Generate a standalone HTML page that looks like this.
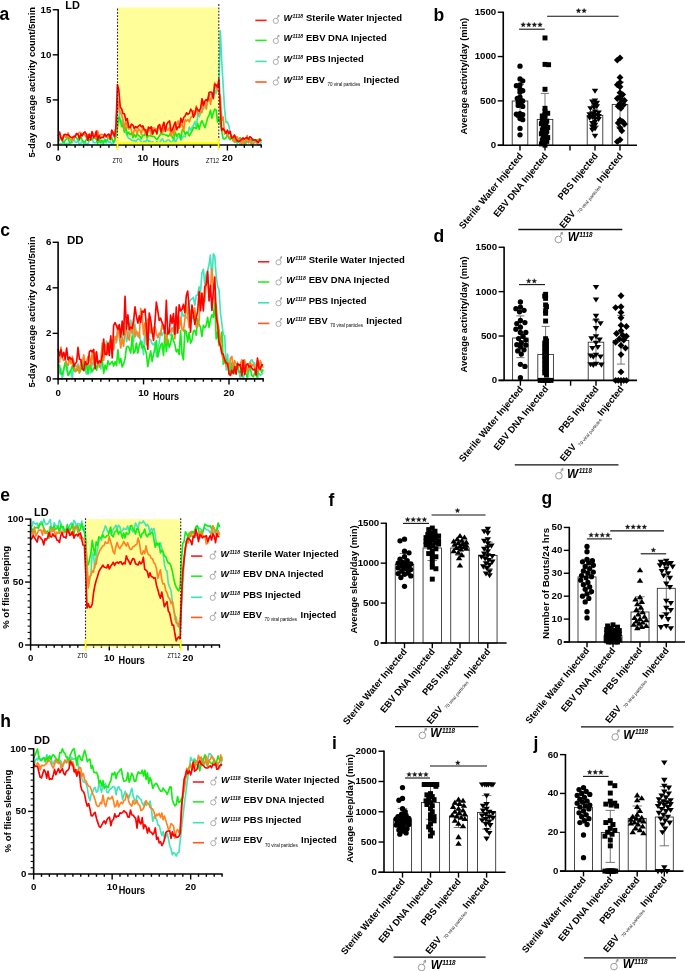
<!DOCTYPE html><html><head><meta charset="utf-8"><style>html,body{margin:0;padding:0;background:#fff;}svg{display:block;font-family:"Liberation Sans",sans-serif;will-change:transform;}</style></head><body><svg width="685" height="971" viewBox="0 0 685 971"><rect x="0" y="0" width="685" height="971" fill="#fff"/>
<rect x="117.50" y="7.40" width="101.10" height="137.60" fill="#fffe99" stroke="none" stroke-width="1"/>
<polyline points="58.20,144.47 59.61,143.55 61.02,143.79 62.43,143.26 63.84,141.35 65.25,145.00 66.66,143.23 68.07,143.48 69.48,144.19 70.89,142.76 72.30,142.52 73.71,138.45 75.12,141.92 76.53,142.47 77.94,140.83 79.35,144.36 80.76,143.51 82.17,141.34 83.58,143.28 84.99,144.16 86.40,143.38 87.81,144.82 89.22,140.11 90.63,139.85 92.04,138.07 93.45,142.74 94.86,142.60 96.27,142.52 97.68,141.11 99.09,142.08 100.50,140.58 101.91,142.65 103.32,144.76 104.73,138.97 106.14,142.95 107.55,139.75 108.96,142.60 110.37,141.65 111.78,145.00 113.19,143.77 114.60,141.10 116.01,133.15 117.42,99.01 118.83,108.36 120.24,122.20 121.65,120.37 123.06,126.95 124.47,132.12 125.88,132.33 127.29,135.96 128.70,138.49 130.11,138.73 131.52,140.17 132.93,140.59 134.34,140.28 135.75,141.82 137.16,139.56 138.57,138.80 139.98,139.89 141.39,142.51 142.80,143.09 144.21,141.10 145.62,142.26 147.03,139.19 148.44,141.42 149.85,140.96 151.26,142.96 152.67,141.52 154.08,143.98 155.49,144.73 156.90,141.46 158.31,144.03 159.72,143.03 161.13,140.15 162.54,138.79 163.95,141.75 165.36,142.68 166.77,140.36 168.18,139.99 169.59,140.45 171.00,142.89 172.41,141.82 173.82,138.29 175.23,142.44 176.64,139.60 178.05,136.68 179.46,136.73 180.87,140.17 182.28,137.75 183.69,135.96 185.10,136.76 186.51,131.92 187.92,132.96 189.33,127.02 190.74,130.45 192.15,127.27 193.56,125.35 194.97,121.35 196.38,127.31 197.79,114.32 199.20,116.69 200.61,113.37 202.02,106.81 203.43,109.20 204.84,105.29 206.25,104.12 207.66,98.79 209.07,97.10 210.48,92.75 211.89,95.73 213.30,97.90 214.71,89.63 216.12,93.60 217.53,86.13 218.94,85.23 220.35,30.49 221.76,62.05 223.17,85.49 224.58,108.92 225.99,122.63 227.40,121.97 228.81,125.49 230.22,134.38 231.63,136.94 233.04,138.93 234.45,141.48 235.86,140.30 237.27,143.44 238.68,139.70 240.09,145.00 241.50,145.00 242.91,140.11 244.32,142.51 245.73,145.00 247.14,137.68 248.55,140.62 249.96,141.37 251.37,145.00 252.78,140.43 254.19,142.23 255.60,142.60 257.01,143.06 258.42,145.00 259.83,144.62 261.24,141.68" fill="none" stroke="#44e4b8" stroke-width="1.65" stroke-linejoin="round"/>
<polyline points="58.20,142.67 59.61,139.22 61.02,137.87 62.43,141.11 63.84,142.86 65.25,140.13 66.66,138.94 68.07,137.59 69.48,142.58 70.89,142.74 72.30,138.40 73.71,138.89 75.12,136.59 76.53,137.77 77.94,140.11 79.35,140.47 80.76,135.09 82.17,140.48 83.58,141.55 84.99,142.31 86.40,139.61 87.81,139.49 89.22,140.55 90.63,139.92 92.04,139.18 93.45,138.25 94.86,137.36 96.27,139.28 97.68,143.64 99.09,138.19 100.50,142.81 101.91,140.07 103.32,142.91 104.73,139.67 106.14,141.37 107.55,139.18 108.96,134.82 110.37,139.74 111.78,137.77 113.19,142.52 114.60,140.23 116.01,135.95 117.42,127.58 118.83,117.05 120.24,119.84 121.65,126.70 123.06,124.59 124.47,131.79 125.88,127.16 127.29,134.51 128.70,132.04 130.11,134.62 131.52,132.93 132.93,137.65 134.34,134.44 135.75,137.19 137.16,133.79 138.57,135.35 139.98,136.54 141.39,138.80 142.80,135.00 144.21,135.74 145.62,132.86 147.03,137.81 148.44,135.53 149.85,135.64 151.26,136.19 152.67,136.37 154.08,136.44 155.49,138.35 156.90,139.37 158.31,137.86 159.72,135.44 161.13,133.18 162.54,134.49 163.95,134.30 165.36,134.98 166.77,135.17 168.18,136.44 169.59,134.99 171.00,132.54 172.41,137.69 173.82,138.59 175.23,132.08 176.64,136.29 178.05,134.10 179.46,133.94 180.87,138.65 182.28,129.72 183.69,130.39 185.10,134.17 186.51,132.26 187.92,133.54 189.33,135.90 190.74,133.19 192.15,130.82 193.56,127.65 194.97,127.78 196.38,128.69 197.79,123.71 199.20,129.25 200.61,123.25 202.02,120.74 203.43,123.93 204.84,127.64 206.25,123.28 207.66,117.87 209.07,115.39 210.48,110.19 211.89,118.22 213.30,113.04 214.71,109.13 216.12,110.01 217.53,122.03 218.94,118.06 220.35,124.04 221.76,131.51 223.17,138.72 224.58,138.96 225.99,137.98 227.40,134.02 228.81,138.13 230.22,139.75 231.63,137.22 233.04,140.66 234.45,136.58 235.86,141.93 237.27,141.49 238.68,138.98 240.09,137.50 241.50,139.12 242.91,139.86 244.32,144.32 245.73,141.99 247.14,141.78 248.55,141.61 249.96,139.26 251.37,141.20 252.78,138.84 254.19,140.32 255.60,141.19 257.01,140.24 258.42,139.59 259.83,138.69 261.24,141.50" fill="none" stroke="#11ee11" stroke-width="1.65" stroke-linejoin="round"/>
<polyline points="58.20,140.82 59.61,136.74 61.02,137.94 62.43,138.40 63.84,134.86 65.25,137.01 66.66,137.80 68.07,132.72 69.48,138.27 70.89,140.12 72.30,140.36 73.71,138.26 75.12,135.33 76.53,134.82 77.94,134.08 79.35,132.29 80.76,132.57 82.17,135.13 83.58,133.39 84.99,135.01 86.40,137.98 87.81,134.49 89.22,136.34 90.63,136.97 92.04,131.43 93.45,134.45 94.86,137.56 96.27,136.50 97.68,130.93 99.09,136.86 100.50,134.35 101.91,134.61 103.32,134.84 104.73,134.61 106.14,137.29 107.55,137.21 108.96,136.41 110.37,136.88 111.78,133.88 113.19,131.96 114.60,138.14 116.01,128.18 117.42,99.92 118.83,108.20 120.24,111.91 121.65,114.78 123.06,120.03 124.47,129.37 125.88,120.46 127.29,126.91 128.70,129.09 130.11,126.05 131.52,131.01 132.93,134.48 134.34,129.90 135.75,130.07 137.16,133.63 138.57,128.77 139.98,130.08 141.39,134.42 142.80,126.01 144.21,130.27 145.62,134.32 147.03,129.66 148.44,130.57 149.85,128.07 151.26,134.80 152.67,127.79 154.08,128.04 155.49,128.72 156.90,128.93 158.31,126.82 159.72,128.53 161.13,130.23 162.54,133.02 163.95,127.26 165.36,127.60 166.77,129.58 168.18,129.97 169.59,127.76 171.00,136.10 172.41,127.94 173.82,135.23 175.23,127.16 176.64,124.09 178.05,120.91 179.46,127.90 180.87,124.52 182.28,124.90 183.69,130.87 185.10,119.72 186.51,121.03 187.92,119.50 189.33,121.90 190.74,117.57 192.15,116.24 193.56,110.90 194.97,113.68 196.38,105.83 197.79,114.60 199.20,113.18 200.61,111.29 202.02,112.46 203.43,101.20 204.84,102.82 206.25,109.02 207.66,101.32 209.07,94.91 210.48,104.34 211.89,95.53 213.30,95.42 214.71,82.68 216.12,87.85 217.53,89.09 218.94,92.55 220.35,97.53 221.76,120.50 223.17,117.07 224.58,134.09 225.99,132.43 227.40,134.34 228.81,137.32 230.22,137.07 231.63,135.71 233.04,139.80 234.45,142.34 235.86,137.00 237.27,136.76 238.68,141.49 240.09,139.35 241.50,144.85 242.91,137.81 244.32,142.97 245.73,141.31 247.14,135.55 248.55,142.89 249.96,140.15 251.37,142.52 252.78,144.21 254.19,142.77 255.60,139.71 257.01,143.11 258.42,141.60 259.83,138.82 261.24,140.73" fill="none" stroke="#ff8420" stroke-width="1.65" stroke-linejoin="round"/>
<polyline points="58.20,136.20 59.61,132.15 61.02,137.96 62.43,140.48 63.84,135.26 65.25,134.30 66.66,134.90 68.07,134.54 69.48,136.12 70.89,137.31 72.30,137.70 73.71,136.33 75.12,136.73 76.53,133.40 77.94,134.17 79.35,138.93 80.76,133.96 82.17,135.80 83.58,132.89 84.99,131.91 86.40,134.31 87.81,140.24 89.22,134.06 90.63,139.68 92.04,131.72 93.45,137.39 94.86,136.19 96.27,131.07 97.68,140.20 99.09,135.63 100.50,138.44 101.91,137.03 103.32,137.74 104.73,133.97 106.14,136.48 107.55,134.82 108.96,134.07 110.37,139.25 111.78,130.03 113.19,133.54 114.60,136.61 116.01,125.49 117.42,84.59 118.83,90.06 120.24,106.99 121.65,108.98 123.06,113.77 124.47,113.79 125.88,120.28 127.29,118.73 128.70,127.05 130.11,127.53 131.52,124.14 132.93,125.07 134.34,128.57 135.75,126.57 137.16,127.78 138.57,126.06 139.98,124.85 141.39,126.82 142.80,125.90 144.21,129.63 145.62,130.13 147.03,135.41 148.44,127.16 149.85,128.32 151.26,126.78 152.67,134.17 154.08,129.91 155.49,130.13 156.90,133.97 158.31,125.63 159.72,124.66 161.13,132.13 162.54,126.58 163.95,122.36 165.36,131.31 166.77,124.17 168.18,122.04 169.59,120.91 171.00,130.95 172.41,129.78 173.82,125.48 175.23,122.04 176.64,129.77 178.05,126.95 179.46,127.00 180.87,118.20 182.28,122.74 183.69,117.51 185.10,115.98 186.51,112.82 187.92,114.31 189.33,113.35 190.74,109.20 192.15,111.18 193.56,117.31 194.97,113.87 196.38,107.56 197.79,109.95 199.20,111.29 200.61,108.01 202.02,98.76 203.43,105.48 204.84,101.35 206.25,99.56 207.66,100.87 209.07,92.48 210.48,92.06 211.89,92.24 213.30,98.54 214.71,84.39 216.12,84.88 217.53,87.14 218.94,79.18 220.35,112.31 221.76,130.49 223.17,128.46 224.58,130.73 225.99,133.49 227.40,130.12 228.81,133.56 230.22,131.49 231.63,138.19 233.04,137.38 234.45,134.87 235.86,138.60 237.27,141.00 238.68,141.39 240.09,140.74 241.50,139.62 242.91,137.92 244.32,139.16 245.73,137.82 247.14,137.66 248.55,139.30 249.96,136.71 251.37,137.97 252.78,140.05 254.19,140.03 255.60,139.73 257.01,141.35 258.42,142.71 259.83,139.68 261.24,140.93" fill="none" stroke="#ff0000" stroke-width="1.65" stroke-linejoin="round"/>
<line x1="117.50" y1="8.60" x2="117.50" y2="145.00" stroke="#2a2a2a" stroke-width="1.1" stroke-dasharray="1.8,1.5"/>
<line x1="218.80" y1="4.10" x2="218.80" y2="145.00" stroke="#2a2a2a" stroke-width="1.1" stroke-dasharray="1.8,1.5"/>
<line x1="58.20" y1="9.15" x2="58.20" y2="145.60" stroke="#000" stroke-width="1.6" />
<line x1="52.70" y1="9.75" x2="58.20" y2="9.75" stroke="#000" stroke-width="1.4" />
<text x="51.30" y="12.66" font-size="9.7" font-weight="bold" text-anchor="end">15</text>
<line x1="52.70" y1="54.83" x2="58.20" y2="54.83" stroke="#000" stroke-width="1.4" />
<text x="51.30" y="57.74" font-size="9.7" font-weight="bold" text-anchor="end">10</text>
<line x1="52.70" y1="99.92" x2="58.20" y2="99.92" stroke="#000" stroke-width="1.4" />
<text x="51.30" y="102.83" font-size="9.7" font-weight="bold" text-anchor="end">5</text>
<line x1="52.70" y1="145.00" x2="58.20" y2="145.00" stroke="#000" stroke-width="1.4" />
<text x="51.30" y="147.91" font-size="9.7" font-weight="bold" text-anchor="end">0</text>
<line x1="57.60" y1="145.00" x2="261.84" y2="145.00" stroke="#000" stroke-width="1.6" />
<line x1="58.20" y1="145.00" x2="58.20" y2="150.50" stroke="#000" stroke-width="1.4" />
<line x1="66.66" y1="145.00" x2="66.66" y2="147.80" stroke="#000" stroke-width="1.4" />
<line x1="75.12" y1="145.00" x2="75.12" y2="147.80" stroke="#000" stroke-width="1.4" />
<line x1="83.58" y1="145.00" x2="83.58" y2="147.80" stroke="#000" stroke-width="1.4" />
<line x1="92.04" y1="145.00" x2="92.04" y2="147.80" stroke="#000" stroke-width="1.4" />
<line x1="100.50" y1="145.00" x2="100.50" y2="147.80" stroke="#000" stroke-width="1.4" />
<line x1="108.96" y1="145.00" x2="108.96" y2="147.80" stroke="#000" stroke-width="1.4" />
<line x1="117.42" y1="145.00" x2="117.42" y2="147.80" stroke="#000" stroke-width="1.4" />
<line x1="125.88" y1="145.00" x2="125.88" y2="147.80" stroke="#000" stroke-width="1.4" />
<line x1="134.34" y1="145.00" x2="134.34" y2="147.80" stroke="#000" stroke-width="1.4" />
<line x1="142.80" y1="145.00" x2="142.80" y2="150.50" stroke="#000" stroke-width="1.4" />
<line x1="151.26" y1="145.00" x2="151.26" y2="147.80" stroke="#000" stroke-width="1.4" />
<line x1="159.72" y1="145.00" x2="159.72" y2="147.80" stroke="#000" stroke-width="1.4" />
<line x1="168.18" y1="145.00" x2="168.18" y2="147.80" stroke="#000" stroke-width="1.4" />
<line x1="176.64" y1="145.00" x2="176.64" y2="147.80" stroke="#000" stroke-width="1.4" />
<line x1="185.10" y1="145.00" x2="185.10" y2="147.80" stroke="#000" stroke-width="1.4" />
<line x1="193.56" y1="145.00" x2="193.56" y2="147.80" stroke="#000" stroke-width="1.4" />
<line x1="202.02" y1="145.00" x2="202.02" y2="147.80" stroke="#000" stroke-width="1.4" />
<line x1="210.48" y1="145.00" x2="210.48" y2="147.80" stroke="#000" stroke-width="1.4" />
<line x1="218.94" y1="145.00" x2="218.94" y2="147.80" stroke="#000" stroke-width="1.4" />
<line x1="227.40" y1="145.00" x2="227.40" y2="150.50" stroke="#000" stroke-width="1.4" />
<line x1="235.86" y1="145.00" x2="235.86" y2="147.80" stroke="#000" stroke-width="1.4" />
<line x1="244.32" y1="145.00" x2="244.32" y2="147.80" stroke="#000" stroke-width="1.4" />
<line x1="252.78" y1="145.00" x2="252.78" y2="147.80" stroke="#000" stroke-width="1.4" />
<line x1="261.24" y1="145.00" x2="261.24" y2="147.80" stroke="#000" stroke-width="1.4" />
<line x1="117.50" y1="143.30" x2="218.60" y2="143.30" stroke="#ffff00" stroke-width="1.9" />
<line x1="117.50" y1="138.00" x2="117.50" y2="150.00" stroke="#ffff00" stroke-width="1.7" />
<line x1="218.60" y1="138.00" x2="218.60" y2="150.00" stroke="#ffff00" stroke-width="1.7" />
<text x="58.20" y="161.30" font-size="9.7" font-weight="bold" text-anchor="middle">0</text>
<text x="142.80" y="161.30" font-size="9.7" font-weight="bold" text-anchor="middle">10</text>
<text x="227.40" y="161.30" font-size="9.7" font-weight="bold" text-anchor="middle">20</text>
<text x="117.50" y="162.50" font-size="7.4" font-weight="normal" text-anchor="middle" textLength="10.00" lengthAdjust="spacingAndGlyphs">ZT0</text>
<text x="212.50" y="162.50" font-size="7.4" font-weight="normal" text-anchor="middle" textLength="13.00" lengthAdjust="spacingAndGlyphs">ZT12</text>
<text x="152.60" y="166.40" font-size="10.0" font-weight="bold" textLength="26.50" lengthAdjust="spacingAndGlyphs">Hours</text>
<text x="35.20" y="82.20" font-size="9.4" font-weight="bold" text-anchor="middle" textLength="150.50" lengthAdjust="spacingAndGlyphs" transform="rotate(-90 35.20 82.20)">5-day average activity count/5min</text>
<text x="65.30" y="8.80" font-size="11.0" font-weight="bold" textLength="14.60" lengthAdjust="spacingAndGlyphs">LD</text>
<text x="-0.60" y="20.30" font-size="17.5" font-weight="bold">a</text>
<line x1="255.30" y1="20.40" x2="266.60" y2="20.40" stroke="#ff1a1a" stroke-width="1.6" />
<circle cx="275.80" cy="20.90" r="2.6" fill="none" stroke="#8a8a8a" stroke-width="0.7"/>
<line x1="277.02" y1="18.60" x2="278.85" y2="15.16" stroke="#8a8a8a" stroke-width="0.7"/>
<line x1="278.85" y1="15.16" x2="277.20" y2="16.19" stroke="#8a8a8a" stroke-width="0.7"/>
<line x1="278.85" y1="15.16" x2="278.92" y2="17.11" stroke="#8a8a8a" stroke-width="0.7"/>
<text x="283.60" y="21.10" font-size="9.6" font-weight="bold" font-style="italic" textLength="8.60" lengthAdjust="spacingAndGlyphs">W</text>
<text x="292.50" y="18.22" font-size="5.6" font-weight="bold" font-style="italic" textLength="10.60" lengthAdjust="spacingAndGlyphs">1118</text>
<text x="306.00" y="21.10" font-size="9.5" font-weight="bold" textLength="96.00" lengthAdjust="spacingAndGlyphs">Sterile Water Injected</text>
<line x1="255.30" y1="40.40" x2="266.60" y2="40.40" stroke="#22ee22" stroke-width="1.6" />
<circle cx="275.80" cy="40.90" r="2.6" fill="none" stroke="#8a8a8a" stroke-width="0.7"/>
<line x1="277.02" y1="38.60" x2="278.85" y2="35.16" stroke="#8a8a8a" stroke-width="0.7"/>
<line x1="278.85" y1="35.16" x2="277.20" y2="36.19" stroke="#8a8a8a" stroke-width="0.7"/>
<line x1="278.85" y1="35.16" x2="278.92" y2="37.11" stroke="#8a8a8a" stroke-width="0.7"/>
<text x="283.60" y="41.10" font-size="9.6" font-weight="bold" font-style="italic" textLength="8.60" lengthAdjust="spacingAndGlyphs">W</text>
<text x="292.50" y="38.22" font-size="5.6" font-weight="bold" font-style="italic" textLength="10.60" lengthAdjust="spacingAndGlyphs">1118</text>
<text x="306.00" y="41.10" font-size="9.5" font-weight="bold" textLength="80.74" lengthAdjust="spacingAndGlyphs">EBV DNA Injected</text>
<line x1="255.30" y1="61.40" x2="266.60" y2="61.40" stroke="#3ee3b4" stroke-width="1.6" />
<circle cx="275.80" cy="61.90" r="2.6" fill="none" stroke="#8a8a8a" stroke-width="0.7"/>
<line x1="277.02" y1="59.60" x2="278.85" y2="56.16" stroke="#8a8a8a" stroke-width="0.7"/>
<line x1="278.85" y1="56.16" x2="277.20" y2="57.19" stroke="#8a8a8a" stroke-width="0.7"/>
<line x1="278.85" y1="56.16" x2="278.92" y2="58.11" stroke="#8a8a8a" stroke-width="0.7"/>
<text x="283.60" y="62.10" font-size="9.6" font-weight="bold" font-style="italic" textLength="8.60" lengthAdjust="spacingAndGlyphs">W</text>
<text x="292.50" y="59.22" font-size="5.6" font-weight="bold" font-style="italic" textLength="10.60" lengthAdjust="spacingAndGlyphs">1118</text>
<text x="306.00" y="62.10" font-size="9.5" font-weight="bold" textLength="57.90" lengthAdjust="spacingAndGlyphs">PBS Injected</text>
<line x1="255.30" y1="82.00" x2="266.60" y2="82.00" stroke="#ff5a1e" stroke-width="1.6" />
<circle cx="275.80" cy="82.50" r="2.6" fill="none" stroke="#8a8a8a" stroke-width="0.7"/>
<line x1="277.02" y1="80.20" x2="278.85" y2="76.76" stroke="#8a8a8a" stroke-width="0.7"/>
<line x1="278.85" y1="76.76" x2="277.20" y2="77.79" stroke="#8a8a8a" stroke-width="0.7"/>
<line x1="278.85" y1="76.76" x2="278.92" y2="78.71" stroke="#8a8a8a" stroke-width="0.7"/>
<text x="283.60" y="82.70" font-size="9.6" font-weight="bold" font-style="italic" textLength="8.60" lengthAdjust="spacingAndGlyphs">W</text>
<text x="292.50" y="79.82" font-size="5.6" font-weight="bold" font-style="italic" textLength="10.60" lengthAdjust="spacingAndGlyphs">1118</text>
<text x="306.00" y="82.70" font-size="9.5" font-weight="bold" textLength="18.95" lengthAdjust="spacingAndGlyphs">EBV</text>
<text x="327.60" y="85.90" font-size="4.5" font-weight="normal" textLength="32.60" lengthAdjust="spacingAndGlyphs">70 viral particles</text>
<text x="363.60" y="82.70" font-size="9.5" font-weight="bold" textLength="35.82" lengthAdjust="spacingAndGlyphs">Injected</text>
<polyline points="58.10,364.19 59.52,373.50 60.95,368.64 62.37,378.90 63.80,369.88 65.22,363.06 66.64,361.81 68.07,374.39 69.49,371.65 70.92,370.33 72.34,378.90 73.77,361.32 75.19,365.71 76.61,366.39 78.04,363.99 79.46,370.19 80.89,367.55 82.31,364.63 83.73,364.94 85.16,370.61 86.58,374.09 88.01,365.34 89.43,366.28 90.86,373.12 92.28,362.69 93.70,364.92 95.13,365.79 96.55,367.29 97.98,365.03 99.40,360.89 100.83,369.01 102.25,355.63 103.67,357.61 105.10,352.31 106.52,341.13 107.95,344.85 109.37,341.83 110.79,346.97 112.22,342.02 113.64,339.72 115.07,343.01 116.49,342.76 117.91,330.38 119.34,327.99 120.76,341.59 122.19,339.69 123.61,329.28 125.04,326.58 126.46,341.64 127.88,336.97 129.31,325.89 130.73,320.00 132.16,326.70 133.58,341.79 135.00,324.00 136.43,334.16 137.85,336.46 139.28,332.18 140.70,342.23 142.13,341.48 143.55,354.77 144.97,328.95 146.40,336.11 147.82,341.34 149.25,338.73 150.67,339.91 152.09,343.59 153.52,344.96 154.94,342.30 156.37,356.67 157.79,351.40 159.22,342.36 160.64,330.78 162.06,335.69 163.49,332.36 164.91,331.69 166.34,337.07 167.76,332.21 169.19,333.52 170.61,335.51 172.03,331.36 173.46,327.02 174.88,332.23 176.31,333.19 177.73,325.06 179.15,325.13 180.58,321.52 182.00,311.51 183.43,316.14 184.85,315.04 186.28,317.46 187.70,318.52 189.12,302.34 190.55,299.68 191.97,298.89 193.40,297.32 194.82,305.33 196.24,295.32 197.67,295.15 199.09,286.71 200.52,292.00 201.94,272.73 203.36,269.20 204.79,284.11 206.21,273.58 207.64,270.94 209.06,264.33 210.49,254.99 211.91,282.07 213.33,253.78 214.76,255.90 216.18,275.96 217.61,286.50 219.03,289.83 220.45,312.25 221.88,323.87 223.30,334.51 224.73,335.94 226.15,369.91 227.58,354.13 229.00,374.61 230.42,362.24 231.85,369.87 233.27,367.45 234.70,370.90 236.12,369.72 237.54,362.15 238.97,372.02 240.39,378.81 241.82,370.68 243.24,378.90 244.67,372.52 246.09,369.84 247.51,372.11 248.94,371.87 250.36,361.36 251.79,359.64 253.21,362.60 254.63,362.99 256.06,368.35 257.48,373.65 258.91,373.51 260.33,375.25 261.76,374.18 263.18,373.16" fill="none" stroke="#44e4b8" stroke-width="1.65" stroke-linejoin="round"/>
<polyline points="58.10,367.48 59.52,365.01 60.95,374.14 62.37,374.53 63.80,368.95 65.22,362.78 66.64,368.56 68.07,375.44 69.49,373.63 70.92,370.35 72.34,365.81 73.77,370.01 75.19,371.50 76.61,370.83 78.04,368.97 79.46,373.00 80.89,369.57 82.31,368.30 83.73,362.01 85.16,369.60 86.58,364.88 88.01,373.87 89.43,365.20 90.86,368.30 92.28,371.42 93.70,369.00 95.13,364.67 96.55,370.22 97.98,363.92 99.40,361.55 100.83,360.99 102.25,360.31 103.67,373.38 105.10,365.10 106.52,369.50 107.95,360.90 109.37,364.58 110.79,363.17 112.22,361.29 113.64,366.10 115.07,361.88 116.49,365.57 117.91,349.91 119.34,362.90 120.76,358.58 122.19,367.03 123.61,363.84 125.04,358.45 126.46,347.22 127.88,346.25 129.31,348.18 130.73,352.91 132.16,335.95 133.58,353.35 135.00,351.24 136.43,342.96 137.85,353.05 139.28,345.35 140.70,341.32 142.13,348.46 143.55,345.91 144.97,348.73 146.40,353.69 147.82,366.72 149.25,357.99 150.67,350.92 152.09,361.47 153.52,354.09 154.94,348.53 156.37,340.62 157.79,357.03 159.22,350.95 160.64,345.32 162.06,343.23 163.49,355.49 164.91,334.26 166.34,351.57 167.76,338.98 169.19,347.27 170.61,343.14 172.03,334.73 173.46,340.88 174.88,344.55 176.31,351.89 177.73,349.45 179.15,354.43 180.58,330.74 182.00,353.71 183.43,359.80 184.85,330.09 186.28,331.57 187.70,341.96 189.12,332.61 190.55,343.15 191.97,340.10 193.40,330.96 194.82,330.37 196.24,335.29 197.67,318.46 199.09,324.00 200.52,327.44 201.94,336.50 203.36,325.33 204.79,327.80 206.21,325.06 207.64,317.34 209.06,327.35 210.49,319.88 211.91,314.79 213.33,317.49 214.76,300.98 216.18,338.87 217.61,332.28 219.03,345.62 220.45,342.71 221.88,332.16 223.30,364.24 224.73,362.12 226.15,359.34 227.58,364.62 229.00,362.96 230.42,374.98 231.85,362.99 233.27,372.36 234.70,373.73 236.12,365.41 237.54,365.98 238.97,371.81 240.39,372.36 241.82,369.61 243.24,368.86 244.67,369.75 246.09,373.79 247.51,378.90 248.94,363.38 250.36,368.74 251.79,375.33 253.21,376.94 254.63,373.10 256.06,371.98 257.48,378.90 258.91,364.17 260.33,368.66 261.76,372.12 263.18,369.30" fill="none" stroke="#11ee11" stroke-width="1.65" stroke-linejoin="round"/>
<polyline points="58.10,358.83 59.52,362.55 60.95,347.00 62.37,358.56 63.80,360.37 65.22,358.81 66.64,364.40 68.07,365.55 69.49,358.04 70.92,363.78 72.34,356.22 73.77,362.25 75.19,371.58 76.61,368.72 78.04,365.91 79.46,372.65 80.89,361.08 82.31,362.28 83.73,354.81 85.16,365.60 86.58,361.70 88.01,356.74 89.43,355.66 90.86,366.28 92.28,350.74 93.70,363.73 95.13,352.55 96.55,361.59 97.98,362.26 99.40,367.24 100.83,360.32 102.25,343.00 103.67,360.50 105.10,344.78 106.52,344.41 107.95,354.39 109.37,342.53 110.79,339.03 112.22,349.54 113.64,349.78 115.07,336.22 116.49,340.36 117.91,325.45 119.34,336.79 120.76,348.04 122.19,338.44 123.61,346.38 125.04,330.01 126.46,329.32 127.88,337.28 129.31,340.14 130.73,324.52 132.16,333.98 133.58,319.60 135.00,337.04 136.43,331.19 137.85,333.55 139.28,337.78 140.70,308.39 142.13,315.16 143.55,334.61 144.97,322.79 146.40,344.61 147.82,319.13 149.25,320.64 150.67,332.67 152.09,332.85 153.52,328.04 154.94,326.47 156.37,333.48 157.79,337.72 159.22,333.01 160.64,334.58 162.06,324.01 163.49,329.26 164.91,327.49 166.34,342.93 167.76,331.66 169.19,331.24 170.61,331.79 172.03,327.86 173.46,328.93 174.88,338.91 176.31,317.20 177.73,316.82 179.15,328.73 180.58,317.40 182.00,329.54 183.43,330.98 184.85,319.95 186.28,302.37 187.70,315.87 189.12,327.54 190.55,310.20 191.97,317.36 193.40,318.30 194.82,307.82 196.24,327.14 197.67,326.70 199.09,320.60 200.52,292.74 201.94,299.20 203.36,303.12 204.79,300.80 206.21,283.79 207.64,274.28 209.06,296.82 210.49,288.26 211.91,268.48 213.33,288.37 214.76,299.64 216.18,305.44 217.61,321.22 219.03,329.29 220.45,340.38 221.88,354.79 223.30,359.17 224.73,357.78 226.15,365.75 227.58,362.91 229.00,370.03 230.42,358.16 231.85,356.44 233.27,369.90 234.70,360.46 236.12,364.26 237.54,364.73 238.97,366.67 240.39,363.86 241.82,359.86 243.24,372.14 244.67,359.91 246.09,366.97 247.51,371.56 248.94,365.88 250.36,362.19 251.79,366.19 253.21,364.15 254.63,367.62 256.06,368.76 257.48,360.46 258.91,371.00 260.33,360.60 261.76,364.21 263.18,367.58" fill="none" stroke="#ff8420" stroke-width="1.65" stroke-linejoin="round"/>
<polyline points="58.10,349.08 59.52,355.81 60.95,349.68 62.37,357.24 63.80,352.31 65.22,359.10 66.64,347.97 68.07,359.81 69.49,357.02 70.92,359.03 72.34,358.82 73.77,366.75 75.19,363.59 76.61,362.25 78.04,347.32 79.46,359.38 80.89,359.50 82.31,368.74 83.73,370.59 85.16,361.54 86.58,364.70 88.01,363.93 89.43,351.58 90.86,350.34 92.28,351.98 93.70,349.39 95.13,368.60 96.55,351.81 97.98,363.29 99.40,361.05 100.83,362.43 102.25,356.29 103.67,338.98 105.10,354.32 106.52,354.75 107.95,343.22 109.37,355.33 110.79,335.80 112.22,357.83 113.64,325.65 115.07,322.50 116.49,325.88 117.91,329.57 119.34,324.58 120.76,337.30 122.19,320.98 123.61,334.69 125.04,296.24 126.46,329.07 127.88,314.86 129.31,329.61 130.73,327.22 132.16,328.43 133.58,321.07 135.00,306.91 136.43,316.45 137.85,323.08 139.28,315.82 140.70,322.52 142.13,311.03 143.55,312.15 144.97,309.00 146.40,326.84 147.82,349.42 149.25,313.12 150.67,319.54 152.09,331.47 153.52,340.36 154.94,322.39 156.37,302.09 157.79,310.79 159.22,320.45 160.64,318.21 162.06,322.64 163.49,325.36 164.91,333.38 166.34,300.32 167.76,334.21 169.19,332.57 170.61,315.05 172.03,323.43 173.46,313.52 174.88,334.30 176.31,307.10 177.73,332.84 179.15,304.80 180.58,310.88 182.00,309.43 183.43,304.38 184.85,312.55 186.28,295.85 187.70,291.05 189.12,307.93 190.55,332.25 191.97,305.15 193.40,313.78 194.82,324.43 196.24,317.61 197.67,311.48 199.09,291.48 200.52,310.59 201.94,293.16 203.36,310.81 204.79,286.24 206.21,284.71 207.64,271.22 209.06,300.88 210.49,285.44 211.91,310.45 213.33,291.19 214.76,276.99 216.18,315.62 217.61,325.45 219.03,341.95 220.45,346.10 221.88,353.06 223.30,354.41 224.73,360.35 226.15,362.94 227.58,363.76 229.00,373.75 230.42,375.43 231.85,370.34 233.27,373.67 234.70,366.44 236.12,374.12 237.54,363.57 238.97,365.12 240.39,364.64 241.82,375.92 243.24,360.42 244.67,374.32 246.09,365.13 247.51,363.91 248.94,367.01 250.36,365.82 251.79,368.04 253.21,369.91 254.63,369.05 256.06,375.06 257.48,358.07 258.91,367.91 260.33,369.19 261.76,364.71 263.18,365.27" fill="none" stroke="#ff0000" stroke-width="1.65" stroke-linejoin="round"/>
<line x1="58.10" y1="241.70" x2="58.10" y2="379.50" stroke="#000" stroke-width="1.6" />
<line x1="52.60" y1="242.28" x2="58.10" y2="242.28" stroke="#000" stroke-width="1.4" />
<text x="51.30" y="245.19" font-size="9.7" font-weight="bold" text-anchor="end">6</text>
<line x1="52.60" y1="287.82" x2="58.10" y2="287.82" stroke="#000" stroke-width="1.4" />
<text x="51.30" y="290.73" font-size="9.7" font-weight="bold" text-anchor="end">4</text>
<line x1="52.60" y1="333.36" x2="58.10" y2="333.36" stroke="#000" stroke-width="1.4" />
<text x="51.30" y="336.27" font-size="9.7" font-weight="bold" text-anchor="end">2</text>
<line x1="52.60" y1="378.90" x2="58.10" y2="378.90" stroke="#000" stroke-width="1.4" />
<text x="51.30" y="381.81" font-size="9.7" font-weight="bold" text-anchor="end">0</text>
<line x1="57.50" y1="378.90" x2="263.78" y2="378.90" stroke="#000" stroke-width="1.6" />
<line x1="58.10" y1="378.90" x2="58.10" y2="384.40" stroke="#000" stroke-width="1.4" />
<line x1="66.64" y1="378.90" x2="66.64" y2="381.70" stroke="#000" stroke-width="1.4" />
<line x1="75.19" y1="378.90" x2="75.19" y2="381.70" stroke="#000" stroke-width="1.4" />
<line x1="83.73" y1="378.90" x2="83.73" y2="381.70" stroke="#000" stroke-width="1.4" />
<line x1="92.28" y1="378.90" x2="92.28" y2="381.70" stroke="#000" stroke-width="1.4" />
<line x1="100.83" y1="378.90" x2="100.83" y2="381.70" stroke="#000" stroke-width="1.4" />
<line x1="109.37" y1="378.90" x2="109.37" y2="381.70" stroke="#000" stroke-width="1.4" />
<line x1="117.91" y1="378.90" x2="117.91" y2="381.70" stroke="#000" stroke-width="1.4" />
<line x1="126.46" y1="378.90" x2="126.46" y2="381.70" stroke="#000" stroke-width="1.4" />
<line x1="135.00" y1="378.90" x2="135.00" y2="381.70" stroke="#000" stroke-width="1.4" />
<line x1="143.55" y1="378.90" x2="143.55" y2="384.40" stroke="#000" stroke-width="1.4" />
<line x1="152.09" y1="378.90" x2="152.09" y2="381.70" stroke="#000" stroke-width="1.4" />
<line x1="160.64" y1="378.90" x2="160.64" y2="381.70" stroke="#000" stroke-width="1.4" />
<line x1="169.19" y1="378.90" x2="169.19" y2="381.70" stroke="#000" stroke-width="1.4" />
<line x1="177.73" y1="378.90" x2="177.73" y2="381.70" stroke="#000" stroke-width="1.4" />
<line x1="186.28" y1="378.90" x2="186.28" y2="381.70" stroke="#000" stroke-width="1.4" />
<line x1="194.82" y1="378.90" x2="194.82" y2="381.70" stroke="#000" stroke-width="1.4" />
<line x1="203.36" y1="378.90" x2="203.36" y2="381.70" stroke="#000" stroke-width="1.4" />
<line x1="211.91" y1="378.90" x2="211.91" y2="381.70" stroke="#000" stroke-width="1.4" />
<line x1="220.45" y1="378.90" x2="220.45" y2="381.70" stroke="#000" stroke-width="1.4" />
<line x1="229.00" y1="378.90" x2="229.00" y2="384.40" stroke="#000" stroke-width="1.4" />
<line x1="237.54" y1="378.90" x2="237.54" y2="381.70" stroke="#000" stroke-width="1.4" />
<line x1="246.09" y1="378.90" x2="246.09" y2="381.70" stroke="#000" stroke-width="1.4" />
<line x1="254.63" y1="378.90" x2="254.63" y2="381.70" stroke="#000" stroke-width="1.4" />
<line x1="263.18" y1="378.90" x2="263.18" y2="381.70" stroke="#000" stroke-width="1.4" />
<text x="58.10" y="395.60" font-size="9.7" font-weight="bold" text-anchor="middle">0</text>
<text x="143.55" y="395.60" font-size="9.7" font-weight="bold" text-anchor="middle">10</text>
<text x="229.00" y="395.60" font-size="9.7" font-weight="bold" text-anchor="middle">20</text>
<text x="152.90" y="399.50" font-size="10.0" font-weight="bold" textLength="26.20" lengthAdjust="spacingAndGlyphs">Hours</text>
<text x="34.80" y="312.10" font-size="9.2" font-weight="bold" text-anchor="middle" textLength="151.00" lengthAdjust="spacingAndGlyphs" transform="rotate(-90 34.80 312.10)">5-day average activity count/5min</text>
<text x="67.00" y="244.00" font-size="10.5" font-weight="bold" textLength="16.60" lengthAdjust="spacingAndGlyphs">DD</text>
<text x="0.20" y="235.60" font-size="17.5" font-weight="bold">c</text>
<line x1="258.00" y1="261.80" x2="269.30" y2="261.80" stroke="#ff1a1a" stroke-width="1.6" />
<circle cx="278.50" cy="262.30" r="2.6" fill="none" stroke="#8a8a8a" stroke-width="0.7"/>
<line x1="279.72" y1="260.00" x2="281.55" y2="256.56" stroke="#8a8a8a" stroke-width="0.7"/>
<line x1="281.55" y1="256.56" x2="279.90" y2="257.59" stroke="#8a8a8a" stroke-width="0.7"/>
<line x1="281.55" y1="256.56" x2="281.62" y2="258.51" stroke="#8a8a8a" stroke-width="0.7"/>
<text x="286.30" y="262.50" font-size="9.6" font-weight="bold" font-style="italic" textLength="8.60" lengthAdjust="spacingAndGlyphs">W</text>
<text x="295.20" y="259.62" font-size="5.6" font-weight="bold" font-style="italic" textLength="10.60" lengthAdjust="spacingAndGlyphs">1118</text>
<text x="308.70" y="262.50" font-size="9.5" font-weight="bold" textLength="96.00" lengthAdjust="spacingAndGlyphs">Sterile Water Injected</text>
<line x1="258.00" y1="282.00" x2="269.30" y2="282.00" stroke="#22ee22" stroke-width="1.6" />
<circle cx="278.50" cy="282.50" r="2.6" fill="none" stroke="#8a8a8a" stroke-width="0.7"/>
<line x1="279.72" y1="280.20" x2="281.55" y2="276.76" stroke="#8a8a8a" stroke-width="0.7"/>
<line x1="281.55" y1="276.76" x2="279.90" y2="277.79" stroke="#8a8a8a" stroke-width="0.7"/>
<line x1="281.55" y1="276.76" x2="281.62" y2="278.71" stroke="#8a8a8a" stroke-width="0.7"/>
<text x="286.30" y="282.70" font-size="9.6" font-weight="bold" font-style="italic" textLength="8.60" lengthAdjust="spacingAndGlyphs">W</text>
<text x="295.20" y="279.82" font-size="5.6" font-weight="bold" font-style="italic" textLength="10.60" lengthAdjust="spacingAndGlyphs">1118</text>
<text x="308.70" y="282.70" font-size="9.5" font-weight="bold" textLength="80.74" lengthAdjust="spacingAndGlyphs">EBV DNA Injected</text>
<line x1="258.00" y1="302.80" x2="269.30" y2="302.80" stroke="#3ee3b4" stroke-width="1.6" />
<circle cx="278.50" cy="303.30" r="2.6" fill="none" stroke="#8a8a8a" stroke-width="0.7"/>
<line x1="279.72" y1="301.00" x2="281.55" y2="297.56" stroke="#8a8a8a" stroke-width="0.7"/>
<line x1="281.55" y1="297.56" x2="279.90" y2="298.59" stroke="#8a8a8a" stroke-width="0.7"/>
<line x1="281.55" y1="297.56" x2="281.62" y2="299.51" stroke="#8a8a8a" stroke-width="0.7"/>
<text x="286.30" y="303.50" font-size="9.6" font-weight="bold" font-style="italic" textLength="8.60" lengthAdjust="spacingAndGlyphs">W</text>
<text x="295.20" y="300.62" font-size="5.6" font-weight="bold" font-style="italic" textLength="10.60" lengthAdjust="spacingAndGlyphs">1118</text>
<text x="308.70" y="303.50" font-size="9.5" font-weight="bold" textLength="57.90" lengthAdjust="spacingAndGlyphs">PBS Injected</text>
<line x1="258.00" y1="323.40" x2="269.30" y2="323.40" stroke="#ff5a1e" stroke-width="1.6" />
<circle cx="278.50" cy="323.90" r="2.6" fill="none" stroke="#8a8a8a" stroke-width="0.7"/>
<line x1="279.72" y1="321.60" x2="281.55" y2="318.16" stroke="#8a8a8a" stroke-width="0.7"/>
<line x1="281.55" y1="318.16" x2="279.90" y2="319.19" stroke="#8a8a8a" stroke-width="0.7"/>
<line x1="281.55" y1="318.16" x2="281.62" y2="320.11" stroke="#8a8a8a" stroke-width="0.7"/>
<text x="286.30" y="324.10" font-size="9.6" font-weight="bold" font-style="italic" textLength="8.60" lengthAdjust="spacingAndGlyphs">W</text>
<text x="295.20" y="321.22" font-size="5.6" font-weight="bold" font-style="italic" textLength="10.60" lengthAdjust="spacingAndGlyphs">1118</text>
<text x="308.70" y="324.10" font-size="9.5" font-weight="bold" textLength="18.95" lengthAdjust="spacingAndGlyphs">EBV</text>
<text x="330.30" y="327.30" font-size="4.5" font-weight="normal" textLength="32.60" lengthAdjust="spacingAndGlyphs">70 viral particles</text>
<text x="366.30" y="324.10" font-size="9.5" font-weight="bold" textLength="35.82" lengthAdjust="spacingAndGlyphs">Injected</text>
<rect x="85.60" y="519.10" width="95.10" height="125.90" fill="#fffe99" stroke="none" stroke-width="1"/>
<polyline points="30.60,527.80 31.91,526.72 33.22,521.51 34.54,523.41 35.85,524.22 37.16,522.81 38.47,528.05 39.78,523.61 41.09,521.53 42.41,524.47 43.72,519.10 45.03,523.00 46.34,524.62 47.65,524.00 48.96,521.89 50.28,519.49 51.59,529.05 52.90,530.41 54.21,522.60 55.52,525.32 56.83,526.47 58.15,525.96 59.46,520.20 60.77,523.04 62.08,527.08 63.39,530.39 64.70,531.00 66.02,528.88 67.33,530.53 68.64,531.81 69.95,524.65 71.26,522.91 72.57,526.70 73.89,520.54 75.20,522.30 76.51,526.06 77.82,523.64 79.13,523.79 80.44,526.94 81.75,521.14 83.07,529.73 84.38,526.39 85.69,538.23 87.00,562.52 88.31,586.24 89.62,580.90 90.94,572.88 92.25,552.89 93.56,555.06 94.87,567.83 96.18,556.42 97.50,549.52 98.81,541.31 100.12,537.33 101.43,540.02 102.74,532.84 104.05,530.14 105.37,525.76 106.68,528.70 107.99,532.23 109.30,531.21 110.61,533.82 111.92,532.48 113.24,529.15 114.55,527.53 115.86,525.25 117.17,528.74 118.48,525.22 119.79,526.71 121.10,530.98 122.42,530.97 123.73,528.18 125.04,529.16 126.35,529.41 127.66,526.08 128.97,530.40 130.29,528.50 131.60,529.61 132.91,531.92 134.22,528.34 135.53,523.12 136.84,526.03 138.16,527.82 139.47,522.20 140.78,522.61 142.09,522.81 143.40,520.93 144.72,523.25 146.03,525.87 147.34,524.34 148.65,526.60 149.96,533.15 151.27,528.55 152.59,530.32 153.90,528.43 155.21,535.12 156.52,545.10 157.83,544.04 159.14,546.27 160.45,542.79 161.77,548.26 163.08,553.14 164.39,564.08 165.70,569.68 167.01,571.16 168.32,583.38 169.64,587.17 170.95,590.24 172.26,600.76 173.57,606.28 174.88,619.62 176.19,617.07 177.51,626.01 178.82,624.49 180.13,630.08 181.44,608.67 182.75,584.49 184.06,564.65 185.38,548.82 186.69,539.17 188.00,537.51 189.31,532.32 190.62,536.56 191.94,532.54 193.25,533.25 194.56,532.51 195.87,531.17 197.18,527.37 198.49,527.98 199.81,528.39 201.12,529.72 202.43,531.33 203.74,528.95 205.05,528.29 206.36,529.75 207.67,529.53 208.99,530.78 210.30,533.10 211.61,529.81 212.92,534.18 214.23,530.81 215.54,532.65 216.86,530.86 218.17,525.05 219.48,525.73" fill="none" stroke="#44e4b8" stroke-width="1.65" stroke-linejoin="round"/>
<polyline points="30.60,527.71 31.91,528.62 33.22,532.56 34.54,527.35 35.85,527.68 37.16,527.61 38.47,528.13 39.78,523.85 41.09,524.62 42.41,523.87 43.72,528.43 45.03,530.33 46.34,532.70 47.65,530.96 48.96,538.27 50.28,526.66 51.59,527.91 52.90,528.46 54.21,526.13 55.52,529.38 56.83,528.38 58.15,526.39 59.46,533.27 60.77,524.80 62.08,527.34 63.39,526.59 64.70,531.65 66.02,531.83 67.33,524.49 68.64,529.41 69.95,530.49 71.26,527.97 72.57,524.16 73.89,535.37 75.20,526.24 76.51,527.37 77.82,525.69 79.13,531.33 80.44,528.76 81.75,523.81 83.07,528.74 84.38,532.58 85.69,540.79 87.00,565.50 88.31,564.55 89.62,559.08 90.94,552.64 92.25,540.39 93.56,548.31 94.87,555.11 96.18,541.83 97.50,545.25 98.81,536.91 100.12,537.82 101.43,537.59 102.74,534.63 104.05,537.44 105.37,537.50 106.68,535.72 107.99,535.70 109.30,532.08 110.61,526.99 111.92,535.44 113.24,536.95 114.55,532.10 115.86,531.37 117.17,529.14 118.48,534.40 119.79,531.61 121.10,532.80 122.42,538.16 123.73,533.04 125.04,537.92 126.35,532.56 127.66,534.08 128.97,533.65 130.29,525.94 131.60,525.55 132.91,528.91 134.22,529.96 135.53,533.97 136.84,528.63 138.16,528.97 139.47,533.79 140.78,537.75 142.09,533.54 143.40,532.78 144.72,529.15 146.03,535.00 147.34,536.88 148.65,533.84 149.96,534.59 151.27,532.63 152.59,532.08 153.90,539.42 155.21,547.22 156.52,542.64 157.83,544.69 159.14,543.05 160.45,552.94 161.77,550.46 163.08,551.42 164.39,556.12 165.70,556.41 167.01,560.14 168.32,563.17 169.64,562.98 170.95,566.14 172.26,570.56 173.57,577.64 174.88,583.62 176.19,587.15 177.51,589.50 178.82,590.93 180.13,586.28 181.44,560.04 182.75,543.49 184.06,541.50 185.38,531.86 186.69,533.65 188.00,536.76 189.31,533.60 190.62,536.45 191.94,531.44 193.25,532.55 194.56,530.88 195.87,526.86 197.18,525.63 198.49,529.05 199.81,536.91 201.12,533.45 202.43,534.53 203.74,528.13 205.05,523.99 206.36,525.40 207.67,525.90 208.99,526.22 210.30,525.81 211.61,528.96 212.92,525.74 214.23,528.53 215.54,531.99 216.86,529.06 218.17,523.12 219.48,526.95" fill="none" stroke="#11ee11" stroke-width="1.65" stroke-linejoin="round"/>
<polyline points="30.60,531.11 31.91,531.43 33.22,534.60 34.54,527.37 35.85,536.06 37.16,533.77 38.47,530.31 39.78,530.05 41.09,530.07 42.41,535.12 43.72,527.78 45.03,533.51 46.34,533.20 47.65,532.94 48.96,532.89 50.28,534.49 51.59,528.57 52.90,531.35 54.21,529.33 55.52,536.62 56.83,532.13 58.15,533.28 59.46,531.72 60.77,531.84 62.08,531.17 63.39,532.62 64.70,532.52 66.02,532.31 67.33,531.96 68.64,532.40 69.95,533.86 71.26,531.80 72.57,535.13 73.89,527.19 75.20,528.50 76.51,526.84 77.82,531.40 79.13,536.36 80.44,538.54 81.75,536.98 83.07,538.34 84.38,539.65 85.69,548.06 87.00,568.70 88.31,587.95 89.62,576.38 90.94,575.41 92.25,570.66 93.56,572.22 94.87,563.53 96.18,564.19 97.50,556.44 98.81,552.72 100.12,549.87 101.43,548.04 102.74,545.74 104.05,545.49 105.37,541.85 106.68,543.27 107.99,543.21 109.30,536.59 110.61,541.66 111.92,546.27 113.24,551.71 114.55,553.95 115.86,546.79 117.17,542.33 118.48,546.86 119.79,548.58 121.10,546.13 122.42,544.39 123.73,541.44 125.04,543.76 126.35,546.07 127.66,542.72 128.97,546.71 130.29,549.42 131.60,549.21 132.91,546.75 134.22,546.32 135.53,544.89 136.84,544.32 138.16,538.08 139.47,542.94 140.78,552.98 142.09,554.49 143.40,550.83 144.72,553.53 146.03,545.88 147.34,552.34 148.65,554.82 149.96,555.30 151.27,558.46 152.59,558.69 153.90,562.91 155.21,564.09 156.52,568.97 157.83,578.34 159.14,573.42 160.45,569.83 161.77,579.74 163.08,584.05 164.39,583.74 165.70,590.26 167.01,592.83 168.32,597.24 169.64,598.56 170.95,603.75 172.26,601.25 173.57,609.08 174.88,614.91 176.19,622.81 177.51,623.01 178.82,626.81 180.13,616.29 181.44,602.05 182.75,571.76 184.06,556.68 185.38,550.11 186.69,540.93 188.00,543.16 189.31,537.40 190.62,531.91 191.94,535.59 193.25,536.86 194.56,533.27 195.87,535.00 197.18,535.36 198.49,533.64 199.81,538.02 201.12,530.94 202.43,535.67 203.74,535.90 205.05,537.06 206.36,544.03 207.67,543.07 208.99,538.81 210.30,536.33 211.61,531.91 212.92,525.85 214.23,529.86 215.54,533.51 216.86,536.15 218.17,530.54 219.48,534.98" fill="none" stroke="#ff8420" stroke-width="1.65" stroke-linejoin="round"/>
<polyline points="30.60,539.30 31.91,538.46 33.22,535.44 34.54,537.74 35.85,539.90 37.16,542.07 38.47,535.98 39.78,536.84 41.09,538.48 42.41,539.98 43.72,544.86 45.03,538.72 46.34,539.93 47.65,537.69 48.96,532.48 50.28,536.41 51.59,536.95 52.90,533.87 54.21,536.40 55.52,536.18 56.83,539.97 58.15,540.38 59.46,542.65 60.77,535.57 62.08,532.64 63.39,536.88 64.70,537.13 66.02,537.97 67.33,529.01 68.64,531.33 69.95,535.38 71.26,534.15 72.57,531.85 73.89,538.18 75.20,535.20 76.51,534.37 77.82,535.88 79.13,534.07 80.44,532.99 81.75,539.44 83.07,544.98 84.38,545.26 85.69,572.12 87.00,608.05 88.31,603.78 89.62,607.53 90.94,607.09 92.25,604.00 93.56,592.74 94.87,585.53 96.18,580.56 97.50,576.43 98.81,571.98 100.12,569.29 101.43,567.52 102.74,565.02 104.05,567.05 105.37,567.52 106.68,567.89 107.99,564.59 109.30,569.00 110.61,566.33 111.92,564.49 113.24,562.30 114.55,565.44 115.86,562.97 117.17,562.13 118.48,563.41 119.79,561.84 121.10,561.93 122.42,564.55 123.73,562.89 125.04,563.88 126.35,555.74 127.66,559.42 128.97,561.54 130.29,564.42 131.60,560.86 132.91,558.50 134.22,559.18 135.53,563.76 136.84,564.37 138.16,564.93 139.47,561.55 140.78,563.82 142.09,562.50 143.40,557.28 144.72,569.23 146.03,570.12 147.34,571.53 148.65,577.33 149.96,572.76 151.27,576.54 152.59,577.03 153.90,578.32 155.21,577.84 156.52,585.41 157.83,589.57 159.14,594.73 160.45,598.18 161.77,592.09 163.08,598.95 164.39,606.76 165.70,603.84 167.01,601.67 168.32,611.05 169.64,613.03 170.95,619.53 172.26,625.23 173.57,625.08 174.88,633.51 176.19,640.82 177.51,638.23 178.82,636.92 180.13,638.93 181.44,599.17 182.75,572.47 184.06,559.62 185.38,547.44 186.69,540.60 188.00,537.95 189.31,539.13 190.62,540.83 191.94,544.67 193.25,536.32 194.56,537.36 195.87,529.36 197.18,534.21 198.49,541.69 199.81,534.76 201.12,535.50 202.43,537.86 203.74,536.47 205.05,536.50 206.36,535.64 207.67,541.61 208.99,537.99 210.30,535.65 211.61,539.99 212.92,533.71 214.23,536.17 215.54,542.57 216.86,533.56 218.17,536.78 219.48,536.46" fill="none" stroke="#ff0000" stroke-width="1.65" stroke-linejoin="round"/>
<line x1="85.50" y1="518.20" x2="85.50" y2="645.00" stroke="#2a2a2a" stroke-width="1.1" stroke-dasharray="1.8,1.5"/>
<line x1="180.70" y1="518.20" x2="180.70" y2="645.00" stroke="#2a2a2a" stroke-width="1.1" stroke-dasharray="1.8,1.5"/>
<line x1="30.60" y1="518.50" x2="30.60" y2="645.60" stroke="#000" stroke-width="1.6" />
<line x1="25.10" y1="519.10" x2="30.60" y2="519.10" stroke="#000" stroke-width="1.4" />
<text x="23.60" y="522.01" font-size="9.7" font-weight="bold" text-anchor="end">100</text>
<line x1="25.10" y1="582.05" x2="30.60" y2="582.05" stroke="#000" stroke-width="1.4" />
<text x="23.60" y="584.96" font-size="9.7" font-weight="bold" text-anchor="end">50</text>
<line x1="25.10" y1="645.00" x2="30.60" y2="645.00" stroke="#000" stroke-width="1.4" />
<text x="23.60" y="647.91" font-size="9.7" font-weight="bold" text-anchor="end">0</text>
<line x1="27.60" y1="638.71" x2="30.60" y2="638.71" stroke="#000" stroke-width="1.1" />
<line x1="27.60" y1="632.41" x2="30.60" y2="632.41" stroke="#000" stroke-width="1.1" />
<line x1="27.60" y1="626.12" x2="30.60" y2="626.12" stroke="#000" stroke-width="1.1" />
<line x1="27.60" y1="619.82" x2="30.60" y2="619.82" stroke="#000" stroke-width="1.1" />
<line x1="27.60" y1="613.52" x2="30.60" y2="613.52" stroke="#000" stroke-width="1.1" />
<line x1="27.60" y1="607.23" x2="30.60" y2="607.23" stroke="#000" stroke-width="1.1" />
<line x1="27.60" y1="600.93" x2="30.60" y2="600.93" stroke="#000" stroke-width="1.1" />
<line x1="27.60" y1="594.64" x2="30.60" y2="594.64" stroke="#000" stroke-width="1.1" />
<line x1="27.60" y1="588.35" x2="30.60" y2="588.35" stroke="#000" stroke-width="1.1" />
<line x1="27.60" y1="575.75" x2="30.60" y2="575.75" stroke="#000" stroke-width="1.1" />
<line x1="27.60" y1="569.46" x2="30.60" y2="569.46" stroke="#000" stroke-width="1.1" />
<line x1="27.60" y1="563.16" x2="30.60" y2="563.16" stroke="#000" stroke-width="1.1" />
<line x1="27.60" y1="556.87" x2="30.60" y2="556.87" stroke="#000" stroke-width="1.1" />
<line x1="27.60" y1="550.58" x2="30.60" y2="550.58" stroke="#000" stroke-width="1.1" />
<line x1="27.60" y1="544.28" x2="30.60" y2="544.28" stroke="#000" stroke-width="1.1" />
<line x1="27.60" y1="537.99" x2="30.60" y2="537.99" stroke="#000" stroke-width="1.1" />
<line x1="27.60" y1="531.69" x2="30.60" y2="531.69" stroke="#000" stroke-width="1.1" />
<line x1="27.60" y1="525.39" x2="30.60" y2="525.39" stroke="#000" stroke-width="1.1" />
<line x1="30.00" y1="645.00" x2="220.08" y2="645.00" stroke="#000" stroke-width="1.6" />
<line x1="30.60" y1="645.00" x2="30.60" y2="650.50" stroke="#000" stroke-width="1.4" />
<line x1="38.47" y1="645.00" x2="38.47" y2="647.80" stroke="#000" stroke-width="1.4" />
<line x1="46.34" y1="645.00" x2="46.34" y2="647.80" stroke="#000" stroke-width="1.4" />
<line x1="54.21" y1="645.00" x2="54.21" y2="647.80" stroke="#000" stroke-width="1.4" />
<line x1="62.08" y1="645.00" x2="62.08" y2="647.80" stroke="#000" stroke-width="1.4" />
<line x1="69.95" y1="645.00" x2="69.95" y2="647.80" stroke="#000" stroke-width="1.4" />
<line x1="77.82" y1="645.00" x2="77.82" y2="647.80" stroke="#000" stroke-width="1.4" />
<line x1="85.69" y1="645.00" x2="85.69" y2="647.80" stroke="#000" stroke-width="1.4" />
<line x1="93.56" y1="645.00" x2="93.56" y2="647.80" stroke="#000" stroke-width="1.4" />
<line x1="101.43" y1="645.00" x2="101.43" y2="647.80" stroke="#000" stroke-width="1.4" />
<line x1="109.30" y1="645.00" x2="109.30" y2="650.50" stroke="#000" stroke-width="1.4" />
<line x1="117.17" y1="645.00" x2="117.17" y2="647.80" stroke="#000" stroke-width="1.4" />
<line x1="125.04" y1="645.00" x2="125.04" y2="647.80" stroke="#000" stroke-width="1.4" />
<line x1="132.91" y1="645.00" x2="132.91" y2="647.80" stroke="#000" stroke-width="1.4" />
<line x1="140.78" y1="645.00" x2="140.78" y2="647.80" stroke="#000" stroke-width="1.4" />
<line x1="148.65" y1="645.00" x2="148.65" y2="647.80" stroke="#000" stroke-width="1.4" />
<line x1="156.52" y1="645.00" x2="156.52" y2="647.80" stroke="#000" stroke-width="1.4" />
<line x1="164.39" y1="645.00" x2="164.39" y2="647.80" stroke="#000" stroke-width="1.4" />
<line x1="172.26" y1="645.00" x2="172.26" y2="647.80" stroke="#000" stroke-width="1.4" />
<line x1="180.13" y1="645.00" x2="180.13" y2="647.80" stroke="#000" stroke-width="1.4" />
<line x1="188.00" y1="645.00" x2="188.00" y2="650.50" stroke="#000" stroke-width="1.4" />
<line x1="195.87" y1="645.00" x2="195.87" y2="647.80" stroke="#000" stroke-width="1.4" />
<line x1="203.74" y1="645.00" x2="203.74" y2="647.80" stroke="#000" stroke-width="1.4" />
<line x1="211.61" y1="645.00" x2="211.61" y2="647.80" stroke="#000" stroke-width="1.4" />
<line x1="219.48" y1="645.00" x2="219.48" y2="647.80" stroke="#000" stroke-width="1.4" />
<line x1="85.60" y1="646.20" x2="180.70" y2="646.20" stroke="#ffff00" stroke-width="0.8" />
<line x1="85.60" y1="639.40" x2="85.60" y2="650.80" stroke="#ffff00" stroke-width="1.7" />
<line x1="180.70" y1="639.40" x2="180.70" y2="650.80" stroke="#ffff00" stroke-width="1.7" />
<text x="30.60" y="660.60" font-size="9.7" font-weight="bold" text-anchor="middle">0</text>
<text x="109.30" y="660.60" font-size="9.7" font-weight="bold" text-anchor="middle">10</text>
<text x="188.00" y="660.60" font-size="9.7" font-weight="bold" text-anchor="middle">20</text>
<text x="82.50" y="657.80" font-size="7.4" font-weight="normal" text-anchor="middle" textLength="10.00" lengthAdjust="spacingAndGlyphs">ZT0</text>
<text x="174.00" y="657.80" font-size="7.4" font-weight="normal" text-anchor="middle" textLength="13.00" lengthAdjust="spacingAndGlyphs">ZT12</text>
<text x="118.60" y="664.40" font-size="10.0" font-weight="bold" textLength="26.30" lengthAdjust="spacingAndGlyphs">Hours</text>
<text x="8.90" y="587.30" font-size="9.5" font-weight="bold" text-anchor="middle" textLength="82.80" lengthAdjust="spacingAndGlyphs" transform="rotate(-90 8.90 587.30)">% of flies sleeping</text>
<text x="34.00" y="515.70" font-size="11.2" font-weight="bold" textLength="14.60" lengthAdjust="spacingAndGlyphs">LD</text>
<text x="0.20" y="500.80" font-size="17.5" font-weight="bold">e</text>
<line x1="191.00" y1="556.10" x2="202.30" y2="556.10" stroke="#ff1a1a" stroke-width="1.6" />
<circle cx="212.70" cy="556.60" r="2.6" fill="none" stroke="#8a8a8a" stroke-width="0.7"/>
<line x1="213.92" y1="554.30" x2="215.75" y2="550.86" stroke="#8a8a8a" stroke-width="0.7"/>
<line x1="215.75" y1="550.86" x2="214.10" y2="551.89" stroke="#8a8a8a" stroke-width="0.7"/>
<line x1="215.75" y1="550.86" x2="215.82" y2="552.81" stroke="#8a8a8a" stroke-width="0.7"/>
<text x="220.50" y="556.80" font-size="9.6" font-weight="bold" font-style="italic" textLength="8.60" lengthAdjust="spacingAndGlyphs">W</text>
<text x="229.40" y="553.92" font-size="5.6" font-weight="bold" font-style="italic" textLength="10.60" lengthAdjust="spacingAndGlyphs">1118</text>
<text x="242.90" y="556.80" font-size="9.5" font-weight="bold" textLength="96.00" lengthAdjust="spacingAndGlyphs">Sterile Water Injected</text>
<line x1="191.00" y1="576.20" x2="202.30" y2="576.20" stroke="#22ee22" stroke-width="1.6" />
<circle cx="212.70" cy="576.70" r="2.6" fill="none" stroke="#8a8a8a" stroke-width="0.7"/>
<line x1="213.92" y1="574.40" x2="215.75" y2="570.96" stroke="#8a8a8a" stroke-width="0.7"/>
<line x1="215.75" y1="570.96" x2="214.10" y2="571.99" stroke="#8a8a8a" stroke-width="0.7"/>
<line x1="215.75" y1="570.96" x2="215.82" y2="572.91" stroke="#8a8a8a" stroke-width="0.7"/>
<text x="220.50" y="576.90" font-size="9.6" font-weight="bold" font-style="italic" textLength="8.60" lengthAdjust="spacingAndGlyphs">W</text>
<text x="229.40" y="574.02" font-size="5.6" font-weight="bold" font-style="italic" textLength="10.60" lengthAdjust="spacingAndGlyphs">1118</text>
<text x="242.90" y="576.90" font-size="9.5" font-weight="bold" textLength="80.74" lengthAdjust="spacingAndGlyphs">EBV DNA Injected</text>
<line x1="191.00" y1="597.30" x2="202.30" y2="597.30" stroke="#3ee3b4" stroke-width="1.6" />
<circle cx="212.70" cy="597.80" r="2.6" fill="none" stroke="#8a8a8a" stroke-width="0.7"/>
<line x1="213.92" y1="595.50" x2="215.75" y2="592.06" stroke="#8a8a8a" stroke-width="0.7"/>
<line x1="215.75" y1="592.06" x2="214.10" y2="593.09" stroke="#8a8a8a" stroke-width="0.7"/>
<line x1="215.75" y1="592.06" x2="215.82" y2="594.01" stroke="#8a8a8a" stroke-width="0.7"/>
<text x="220.50" y="598.00" font-size="9.6" font-weight="bold" font-style="italic" textLength="8.60" lengthAdjust="spacingAndGlyphs">W</text>
<text x="229.40" y="595.12" font-size="5.6" font-weight="bold" font-style="italic" textLength="10.60" lengthAdjust="spacingAndGlyphs">1118</text>
<text x="242.90" y="598.00" font-size="9.5" font-weight="bold" textLength="57.90" lengthAdjust="spacingAndGlyphs">PBS Injected</text>
<line x1="191.00" y1="617.40" x2="202.30" y2="617.40" stroke="#ff5a1e" stroke-width="1.6" />
<circle cx="212.70" cy="617.90" r="2.6" fill="none" stroke="#8a8a8a" stroke-width="0.7"/>
<line x1="213.92" y1="615.60" x2="215.75" y2="612.16" stroke="#8a8a8a" stroke-width="0.7"/>
<line x1="215.75" y1="612.16" x2="214.10" y2="613.19" stroke="#8a8a8a" stroke-width="0.7"/>
<line x1="215.75" y1="612.16" x2="215.82" y2="614.11" stroke="#8a8a8a" stroke-width="0.7"/>
<text x="220.50" y="618.10" font-size="9.6" font-weight="bold" font-style="italic" textLength="8.60" lengthAdjust="spacingAndGlyphs">W</text>
<text x="229.40" y="615.22" font-size="5.6" font-weight="bold" font-style="italic" textLength="10.60" lengthAdjust="spacingAndGlyphs">1118</text>
<text x="242.90" y="618.10" font-size="9.5" font-weight="bold" textLength="18.95" lengthAdjust="spacingAndGlyphs">EBV</text>
<text x="264.50" y="621.30" font-size="4.5" font-weight="normal" textLength="32.60" lengthAdjust="spacingAndGlyphs">70 viral particles</text>
<text x="300.50" y="618.10" font-size="9.5" font-weight="bold" textLength="35.82" lengthAdjust="spacingAndGlyphs">Injected</text>
<polyline points="33.65,768.09 34.96,761.89 36.27,758.79 37.57,759.88 38.88,755.91 40.19,760.63 41.50,758.89 42.81,758.19 44.12,757.54 45.42,762.52 46.73,754.58 48.04,757.66 49.35,756.69 50.66,756.13 51.97,762.28 53.27,764.25 54.58,760.28 55.89,761.46 57.20,762.70 58.51,762.83 59.82,759.98 61.12,761.26 62.43,767.74 63.74,764.10 65.05,761.14 66.36,762.29 67.67,756.95 68.97,764.37 70.28,764.69 71.59,757.24 72.90,759.61 74.21,758.77 75.52,758.89 76.82,757.97 78.13,764.65 79.44,776.19 80.75,771.58 82.06,778.97 83.37,781.93 84.67,782.11 85.98,783.32 87.29,787.89 88.60,796.55 89.91,800.73 91.22,794.13 92.53,792.43 93.83,788.69 95.14,787.48 96.45,792.19 97.76,791.30 99.07,782.60 100.38,788.15 101.68,792.22 102.99,782.28 104.30,786.71 105.61,783.59 106.92,792.23 108.22,792.70 109.53,789.54 110.84,789.08 112.15,787.50 113.46,786.44 114.77,787.40 116.07,794.75 117.38,787.93 118.69,786.59 120.00,789.55 121.31,790.73 122.62,799.61 123.92,794.72 125.23,791.33 126.54,795.66 127.85,794.86 129.16,797.80 130.47,792.46 131.78,788.37 133.08,795.61 134.39,799.40 135.70,802.35 137.01,795.57 138.32,796.47 139.62,798.39 140.93,799.33 142.24,803.17 143.55,805.64 144.86,801.89 146.17,805.57 147.47,803.83 148.78,803.92 150.09,801.13 151.40,808.80 152.71,821.15 154.02,816.84 155.32,818.30 156.63,819.12 157.94,825.10 159.25,825.62 160.56,830.94 161.87,835.55 163.18,831.58 164.48,838.63 165.79,837.06 167.10,833.40 168.41,838.56 169.72,845.26 171.03,848.92 172.33,854.70 173.64,852.59 174.95,853.43 176.26,856.13 177.57,852.75 178.88,852.52 180.18,840.82 181.49,828.84 182.80,817.27 184.11,806.13 185.42,795.83 186.72,785.47 188.03,775.88 189.34,768.35 190.65,757.38 191.96,760.30 193.27,760.29 194.57,758.55 195.88,760.88 197.19,761.34 198.50,761.84 199.81,767.10 201.12,765.52 202.43,758.57 203.73,765.24 205.04,761.82 206.35,760.75 207.66,759.97 208.97,753.81 210.28,753.76 211.58,755.48 212.89,758.96 214.20,760.20 215.51,762.75 216.82,763.91 218.12,763.48 219.43,768.29 220.74,765.74 222.05,756.46" fill="none" stroke="#44e4b8" stroke-width="1.65" stroke-linejoin="round"/>
<polyline points="33.65,758.13 34.96,755.26 36.27,752.14 37.57,748.80 38.88,758.13 40.19,759.41 41.50,760.57 42.81,758.90 44.12,757.74 45.42,761.26 46.73,757.06 48.04,761.51 49.35,756.17 50.66,759.38 51.97,756.29 53.27,754.69 54.58,756.09 55.89,758.28 57.20,759.68 58.51,761.42 59.82,752.53 61.12,752.80 62.43,748.80 63.74,752.12 65.05,753.55 66.36,757.35 67.67,757.50 68.97,762.22 70.28,754.78 71.59,752.18 72.90,749.48 74.21,748.80 75.52,757.20 76.82,765.49 78.13,756.70 79.44,755.46 80.75,759.43 82.06,760.60 83.37,754.86 84.67,750.32 85.98,754.94 87.29,761.69 88.60,759.70 89.91,759.17 91.22,768.34 92.53,765.66 93.83,772.42 95.14,772.57 96.45,772.30 97.76,775.14 99.07,783.07 100.38,780.44 101.68,785.89 102.99,780.62 104.30,788.54 105.61,786.64 106.92,786.34 108.22,787.44 109.53,783.05 110.84,780.54 112.15,773.22 113.46,774.76 114.77,772.14 116.07,778.48 117.38,773.21 118.69,772.06 120.00,769.86 121.31,768.92 122.62,776.93 123.92,781.26 125.23,780.82 126.54,780.16 127.85,772.62 129.16,782.15 130.47,778.19 131.78,773.33 133.08,775.82 134.39,781.29 135.70,781.24 137.01,775.23 138.32,771.89 139.62,773.42 140.93,773.40 142.24,770.20 143.55,775.98 144.86,770.20 146.17,779.54 147.47,772.96 148.78,783.36 150.09,777.56 151.40,780.98 152.71,788.38 154.02,785.59 155.32,783.69 156.63,783.52 157.94,786.04 159.25,788.82 160.56,791.09 161.87,791.28 163.18,788.13 164.48,790.56 165.79,791.43 167.10,794.40 168.41,791.36 169.72,787.16 171.03,786.87 172.33,799.68 173.64,803.40 174.95,805.86 176.26,804.74 177.57,796.50 178.88,802.59 180.18,801.57 181.49,798.58 182.80,797.82 184.11,788.18 185.42,778.21 186.72,774.73 188.03,769.46 189.34,766.55 190.65,765.39 191.96,769.94 193.27,761.81 194.57,760.73 195.88,764.63 197.19,765.03 198.50,766.46 199.81,770.64 201.12,762.51 202.43,763.61 203.73,758.35 205.04,754.80 206.35,763.79 207.66,766.07 208.97,760.70 210.28,762.60 211.58,763.58 212.89,762.83 214.20,759.39 215.51,764.60 216.82,761.01 218.12,755.89 219.43,760.05 220.74,760.69 222.05,757.81" fill="none" stroke="#11ee11" stroke-width="1.65" stroke-linejoin="round"/>
<polyline points="33.65,765.57 34.96,765.76 36.27,765.57 37.57,762.67 38.88,764.44 40.19,769.69 41.50,765.23 42.81,765.66 44.12,765.59 45.42,764.38 46.73,763.51 48.04,759.97 49.35,760.42 50.66,762.39 51.97,765.93 53.27,768.06 54.58,764.45 55.89,759.49 57.20,762.05 58.51,763.40 59.82,761.64 61.12,767.76 62.43,765.95 63.74,762.52 65.05,759.96 66.36,762.83 67.67,761.67 68.97,761.65 70.28,759.77 71.59,765.54 72.90,761.76 74.21,767.51 75.52,773.25 76.82,769.72 78.13,771.33 79.44,767.23 80.75,767.98 82.06,776.14 83.37,773.39 84.67,780.21 85.98,780.93 87.29,784.19 88.60,786.16 89.91,786.59 91.22,789.51 92.53,793.66 93.83,796.24 95.14,799.87 96.45,804.97 97.76,806.46 99.07,806.01 100.38,802.41 101.68,803.59 102.99,795.04 104.30,802.71 105.61,806.42 106.92,801.33 108.22,797.32 109.53,799.05 110.84,798.52 112.15,796.32 113.46,800.75 114.77,806.84 116.07,805.93 117.38,800.53 118.69,806.83 120.00,803.99 121.31,802.24 122.62,803.58 123.92,800.49 125.23,799.90 126.54,793.74 127.85,797.40 129.16,802.89 130.47,804.64 131.78,806.18 133.08,800.62 134.39,803.87 135.70,803.31 137.01,800.56 138.32,804.79 139.62,804.96 140.93,810.47 142.24,809.96 143.55,808.18 144.86,804.36 146.17,800.52 147.47,803.48 148.78,803.72 150.09,807.42 151.40,808.58 152.71,809.11 154.02,812.03 155.32,818.05 156.63,814.22 157.94,815.28 159.25,813.37 160.56,817.61 161.87,812.92 163.18,819.79 164.48,816.14 165.79,820.52 167.10,824.82 168.41,829.35 169.72,828.40 171.03,823.50 172.33,824.68 173.64,826.34 174.95,838.21 176.26,831.37 177.57,829.51 178.88,832.64 180.18,828.57 181.49,813.35 182.80,793.30 184.11,790.10 185.42,780.05 186.72,768.23 188.03,769.53 189.34,767.90 190.65,763.94 191.96,768.00 193.27,764.36 194.57,767.91 195.88,761.92 197.19,762.77 198.50,755.21 199.81,759.34 201.12,757.01 202.43,765.25 203.73,764.02 205.04,762.01 206.35,756.37 207.66,766.04 208.97,760.23 210.28,759.49 211.58,755.94 212.89,757.44 214.20,760.16 215.51,763.00 216.82,766.41 218.12,762.60 219.43,762.52 220.74,754.87 222.05,761.11" fill="none" stroke="#ff8420" stroke-width="1.65" stroke-linejoin="round"/>
<polyline points="33.65,763.71 34.96,766.30 36.27,766.45 37.57,766.20 38.88,772.32 40.19,777.28 41.50,777.85 42.81,773.38 44.12,769.71 45.42,771.94 46.73,778.14 48.04,771.20 49.35,779.40 50.66,778.79 51.97,779.19 53.27,775.31 54.58,769.33 55.89,774.73 57.20,771.26 58.51,768.60 59.82,772.74 61.12,770.51 62.43,768.78 63.74,773.38 65.05,774.89 66.36,771.14 67.67,770.41 68.97,768.63 70.28,761.20 71.59,763.10 72.90,765.31 74.21,771.88 75.52,769.78 76.82,776.10 78.13,771.48 79.44,772.38 80.75,785.97 82.06,790.63 83.37,791.37 84.67,794.81 85.98,801.41 87.29,806.07 88.60,803.51 89.91,808.59 91.22,815.73 92.53,815.92 93.83,813.68 95.14,812.41 96.45,818.41 97.76,822.37 99.07,826.24 100.38,827.44 101.68,825.07 102.99,822.59 104.30,820.82 105.61,823.79 106.92,819.89 108.22,817.85 109.53,817.11 110.84,825.69 112.15,820.45 113.46,819.61 114.77,813.80 116.07,817.28 117.38,815.98 118.69,816.18 120.00,812.81 121.31,813.36 122.62,812.64 123.92,810.79 125.23,811.98 126.54,813.00 127.85,816.92 129.16,817.07 130.47,810.06 131.78,814.88 133.08,814.95 134.39,816.97 135.70,818.41 137.01,828.16 138.32,816.15 139.62,822.44 140.93,823.99 142.24,817.60 143.55,828.58 144.86,824.83 146.17,826.73 147.47,832.93 148.78,827.78 150.09,831.88 151.40,832.18 152.71,834.55 154.02,832.88 155.32,827.90 156.63,839.32 157.94,837.24 159.25,842.95 160.56,841.73 161.87,845.60 163.18,843.43 164.48,839.31 165.79,832.65 167.10,831.32 168.41,830.94 169.72,830.72 171.03,838.33 172.33,831.75 173.64,835.97 174.95,834.45 176.26,837.33 177.57,837.26 178.88,836.39 180.18,833.22 181.49,806.89 182.80,793.58 184.11,779.36 185.42,775.28 186.72,770.22 188.03,773.79 189.34,770.78 190.65,774.87 191.96,769.78 193.27,762.06 194.57,771.15 195.88,770.21 197.19,768.77 198.50,762.98 199.81,760.67 201.12,763.84 202.43,764.82 203.73,766.00 205.04,767.49 206.35,767.96 207.66,768.03 208.97,766.96 210.28,765.75 211.58,767.74 212.89,764.09 214.20,765.04 215.51,763.39 216.82,769.27 218.12,769.03 219.43,766.19 220.74,764.51 222.05,765.47" fill="none" stroke="#ff0000" stroke-width="1.65" stroke-linejoin="round"/>
<line x1="33.65" y1="748.20" x2="33.65" y2="874.60" stroke="#000" stroke-width="1.6" />
<line x1="28.15" y1="748.80" x2="33.65" y2="748.80" stroke="#000" stroke-width="1.4" />
<text x="26.40" y="751.71" font-size="9.7" font-weight="bold" text-anchor="end">100</text>
<line x1="28.15" y1="811.40" x2="33.65" y2="811.40" stroke="#000" stroke-width="1.4" />
<text x="26.40" y="814.31" font-size="9.7" font-weight="bold" text-anchor="end">50</text>
<line x1="28.15" y1="874.00" x2="33.65" y2="874.00" stroke="#000" stroke-width="1.4" />
<text x="26.40" y="876.91" font-size="9.7" font-weight="bold" text-anchor="end">0</text>
<line x1="30.65" y1="867.74" x2="33.65" y2="867.74" stroke="#000" stroke-width="1.1" />
<line x1="30.65" y1="861.48" x2="33.65" y2="861.48" stroke="#000" stroke-width="1.1" />
<line x1="30.65" y1="855.22" x2="33.65" y2="855.22" stroke="#000" stroke-width="1.1" />
<line x1="30.65" y1="848.96" x2="33.65" y2="848.96" stroke="#000" stroke-width="1.1" />
<line x1="30.65" y1="842.70" x2="33.65" y2="842.70" stroke="#000" stroke-width="1.1" />
<line x1="30.65" y1="836.44" x2="33.65" y2="836.44" stroke="#000" stroke-width="1.1" />
<line x1="30.65" y1="830.18" x2="33.65" y2="830.18" stroke="#000" stroke-width="1.1" />
<line x1="30.65" y1="823.92" x2="33.65" y2="823.92" stroke="#000" stroke-width="1.1" />
<line x1="30.65" y1="817.66" x2="33.65" y2="817.66" stroke="#000" stroke-width="1.1" />
<line x1="30.65" y1="805.14" x2="33.65" y2="805.14" stroke="#000" stroke-width="1.1" />
<line x1="30.65" y1="798.88" x2="33.65" y2="798.88" stroke="#000" stroke-width="1.1" />
<line x1="30.65" y1="792.62" x2="33.65" y2="792.62" stroke="#000" stroke-width="1.1" />
<line x1="30.65" y1="786.36" x2="33.65" y2="786.36" stroke="#000" stroke-width="1.1" />
<line x1="30.65" y1="780.10" x2="33.65" y2="780.10" stroke="#000" stroke-width="1.1" />
<line x1="30.65" y1="773.84" x2="33.65" y2="773.84" stroke="#000" stroke-width="1.1" />
<line x1="30.65" y1="767.58" x2="33.65" y2="767.58" stroke="#000" stroke-width="1.1" />
<line x1="30.65" y1="761.32" x2="33.65" y2="761.32" stroke="#000" stroke-width="1.1" />
<line x1="30.65" y1="755.06" x2="33.65" y2="755.06" stroke="#000" stroke-width="1.1" />
<line x1="33.05" y1="874.00" x2="222.65" y2="874.00" stroke="#000" stroke-width="1.6" />
<line x1="33.65" y1="874.00" x2="33.65" y2="879.50" stroke="#000" stroke-width="1.4" />
<line x1="41.50" y1="874.00" x2="41.50" y2="876.80" stroke="#000" stroke-width="1.4" />
<line x1="49.35" y1="874.00" x2="49.35" y2="876.80" stroke="#000" stroke-width="1.4" />
<line x1="57.20" y1="874.00" x2="57.20" y2="876.80" stroke="#000" stroke-width="1.4" />
<line x1="65.05" y1="874.00" x2="65.05" y2="876.80" stroke="#000" stroke-width="1.4" />
<line x1="72.90" y1="874.00" x2="72.90" y2="876.80" stroke="#000" stroke-width="1.4" />
<line x1="80.75" y1="874.00" x2="80.75" y2="876.80" stroke="#000" stroke-width="1.4" />
<line x1="88.60" y1="874.00" x2="88.60" y2="876.80" stroke="#000" stroke-width="1.4" />
<line x1="96.45" y1="874.00" x2="96.45" y2="876.80" stroke="#000" stroke-width="1.4" />
<line x1="104.30" y1="874.00" x2="104.30" y2="876.80" stroke="#000" stroke-width="1.4" />
<line x1="112.15" y1="874.00" x2="112.15" y2="879.50" stroke="#000" stroke-width="1.4" />
<line x1="120.00" y1="874.00" x2="120.00" y2="876.80" stroke="#000" stroke-width="1.4" />
<line x1="127.85" y1="874.00" x2="127.85" y2="876.80" stroke="#000" stroke-width="1.4" />
<line x1="135.70" y1="874.00" x2="135.70" y2="876.80" stroke="#000" stroke-width="1.4" />
<line x1="143.55" y1="874.00" x2="143.55" y2="876.80" stroke="#000" stroke-width="1.4" />
<line x1="151.40" y1="874.00" x2="151.40" y2="876.80" stroke="#000" stroke-width="1.4" />
<line x1="159.25" y1="874.00" x2="159.25" y2="876.80" stroke="#000" stroke-width="1.4" />
<line x1="167.10" y1="874.00" x2="167.10" y2="876.80" stroke="#000" stroke-width="1.4" />
<line x1="174.95" y1="874.00" x2="174.95" y2="876.80" stroke="#000" stroke-width="1.4" />
<line x1="182.80" y1="874.00" x2="182.80" y2="876.80" stroke="#000" stroke-width="1.4" />
<line x1="190.65" y1="874.00" x2="190.65" y2="879.50" stroke="#000" stroke-width="1.4" />
<line x1="198.50" y1="874.00" x2="198.50" y2="876.80" stroke="#000" stroke-width="1.4" />
<line x1="206.35" y1="874.00" x2="206.35" y2="876.80" stroke="#000" stroke-width="1.4" />
<line x1="214.20" y1="874.00" x2="214.20" y2="876.80" stroke="#000" stroke-width="1.4" />
<line x1="222.05" y1="874.00" x2="222.05" y2="876.80" stroke="#000" stroke-width="1.4" />
<text x="33.65" y="889.70" font-size="9.7" font-weight="bold" text-anchor="middle">0</text>
<text x="112.15" y="889.70" font-size="9.7" font-weight="bold" text-anchor="middle">10</text>
<text x="190.65" y="889.70" font-size="9.7" font-weight="bold" text-anchor="middle">20</text>
<text x="118.80" y="894.40" font-size="10.0" font-weight="bold" textLength="26.30" lengthAdjust="spacingAndGlyphs">Hours</text>
<text x="11.00" y="811.00" font-size="9.5" font-weight="bold" text-anchor="middle" textLength="82.80" lengthAdjust="spacingAndGlyphs" transform="rotate(-90 11.00 811.00)">% of flies sleeping</text>
<text x="34.00" y="744.40" font-size="11.2" font-weight="bold" textLength="16.00" lengthAdjust="spacingAndGlyphs">DD</text>
<text x="0.20" y="726.50" font-size="17.5" font-weight="bold">h</text>
<line x1="192.80" y1="782.00" x2="204.10" y2="782.00" stroke="#ff1a1a" stroke-width="1.6" />
<circle cx="213.30" cy="782.50" r="2.6" fill="none" stroke="#8a8a8a" stroke-width="0.7"/>
<line x1="214.52" y1="780.20" x2="216.35" y2="776.76" stroke="#8a8a8a" stroke-width="0.7"/>
<line x1="216.35" y1="776.76" x2="214.70" y2="777.79" stroke="#8a8a8a" stroke-width="0.7"/>
<line x1="216.35" y1="776.76" x2="216.42" y2="778.71" stroke="#8a8a8a" stroke-width="0.7"/>
<text x="221.10" y="782.70" font-size="9.6" font-weight="bold" font-style="italic" textLength="8.60" lengthAdjust="spacingAndGlyphs">W</text>
<text x="230.00" y="779.82" font-size="5.6" font-weight="bold" font-style="italic" textLength="10.60" lengthAdjust="spacingAndGlyphs">1118</text>
<text x="243.50" y="782.70" font-size="9.5" font-weight="bold" textLength="96.00" lengthAdjust="spacingAndGlyphs">Sterile Water Injected</text>
<line x1="192.80" y1="801.90" x2="204.10" y2="801.90" stroke="#22ee22" stroke-width="1.6" />
<circle cx="213.30" cy="802.40" r="2.6" fill="none" stroke="#8a8a8a" stroke-width="0.7"/>
<line x1="214.52" y1="800.10" x2="216.35" y2="796.66" stroke="#8a8a8a" stroke-width="0.7"/>
<line x1="216.35" y1="796.66" x2="214.70" y2="797.69" stroke="#8a8a8a" stroke-width="0.7"/>
<line x1="216.35" y1="796.66" x2="216.42" y2="798.61" stroke="#8a8a8a" stroke-width="0.7"/>
<text x="221.10" y="802.60" font-size="9.6" font-weight="bold" font-style="italic" textLength="8.60" lengthAdjust="spacingAndGlyphs">W</text>
<text x="230.00" y="799.72" font-size="5.6" font-weight="bold" font-style="italic" textLength="10.60" lengthAdjust="spacingAndGlyphs">1118</text>
<text x="243.50" y="802.60" font-size="9.5" font-weight="bold" textLength="80.74" lengthAdjust="spacingAndGlyphs">EBV DNA Injected</text>
<line x1="192.80" y1="822.70" x2="204.10" y2="822.70" stroke="#3ee3b4" stroke-width="1.6" />
<circle cx="213.30" cy="823.20" r="2.6" fill="none" stroke="#8a8a8a" stroke-width="0.7"/>
<line x1="214.52" y1="820.90" x2="216.35" y2="817.46" stroke="#8a8a8a" stroke-width="0.7"/>
<line x1="216.35" y1="817.46" x2="214.70" y2="818.49" stroke="#8a8a8a" stroke-width="0.7"/>
<line x1="216.35" y1="817.46" x2="216.42" y2="819.41" stroke="#8a8a8a" stroke-width="0.7"/>
<text x="221.10" y="823.40" font-size="9.6" font-weight="bold" font-style="italic" textLength="8.60" lengthAdjust="spacingAndGlyphs">W</text>
<text x="230.00" y="820.52" font-size="5.6" font-weight="bold" font-style="italic" textLength="10.60" lengthAdjust="spacingAndGlyphs">1118</text>
<text x="243.50" y="823.40" font-size="9.5" font-weight="bold" textLength="57.90" lengthAdjust="spacingAndGlyphs">PBS Injected</text>
<line x1="192.80" y1="842.70" x2="204.10" y2="842.70" stroke="#ff5a1e" stroke-width="1.6" />
<circle cx="213.30" cy="843.20" r="2.6" fill="none" stroke="#8a8a8a" stroke-width="0.7"/>
<line x1="214.52" y1="840.90" x2="216.35" y2="837.46" stroke="#8a8a8a" stroke-width="0.7"/>
<line x1="216.35" y1="837.46" x2="214.70" y2="838.49" stroke="#8a8a8a" stroke-width="0.7"/>
<line x1="216.35" y1="837.46" x2="216.42" y2="839.41" stroke="#8a8a8a" stroke-width="0.7"/>
<text x="221.10" y="843.40" font-size="9.6" font-weight="bold" font-style="italic" textLength="8.60" lengthAdjust="spacingAndGlyphs">W</text>
<text x="230.00" y="840.52" font-size="5.6" font-weight="bold" font-style="italic" textLength="10.60" lengthAdjust="spacingAndGlyphs">1118</text>
<text x="243.50" y="843.40" font-size="9.5" font-weight="bold" textLength="18.95" lengthAdjust="spacingAndGlyphs">EBV</text>
<text x="265.10" y="846.60" font-size="4.5" font-weight="normal" textLength="32.60" lengthAdjust="spacingAndGlyphs">70 viral particles</text>
<text x="301.10" y="843.40" font-size="9.5" font-weight="bold" textLength="35.82" lengthAdjust="spacingAndGlyphs">Injected</text>
<rect x="512.20" y="101.00" width="15.60" height="44.20" fill="#fff" stroke="#2a2a2a" stroke-width="0.85"/>
<rect x="537.20" y="119.40" width="15.60" height="25.80" fill="#fff" stroke="#2a2a2a" stroke-width="0.85"/>
<rect x="587.20" y="115.40" width="15.60" height="29.80" fill="#fff" stroke="#2a2a2a" stroke-width="0.85"/>
<rect x="612.20" y="104.40" width="15.60" height="40.80" fill="#fff" stroke="#2a2a2a" stroke-width="0.85"/>
<line x1="520.00" y1="101.00" x2="520.00" y2="84.60" stroke="#555" stroke-width="0.8" />
<line x1="515.94" y1="84.60" x2="524.06" y2="84.60" stroke="#555" stroke-width="0.8" />
<line x1="520.00" y1="101.00" x2="520.00" y2="117.40" stroke="#555" stroke-width="0.8" />
<line x1="515.94" y1="117.40" x2="524.06" y2="117.40" stroke="#555" stroke-width="0.8" />
<line x1="545.00" y1="119.40" x2="545.00" y2="93.40" stroke="#555" stroke-width="0.8" />
<line x1="540.94" y1="93.40" x2="549.06" y2="93.40" stroke="#555" stroke-width="0.8" />
<line x1="595.00" y1="115.40" x2="595.00" y2="104.88" stroke="#555" stroke-width="0.8" />
<line x1="590.94" y1="104.88" x2="599.06" y2="104.88" stroke="#555" stroke-width="0.8" />
<line x1="595.00" y1="115.40" x2="595.00" y2="125.92" stroke="#555" stroke-width="0.8" />
<line x1="590.94" y1="125.92" x2="599.06" y2="125.92" stroke="#555" stroke-width="0.8" />
<line x1="620.00" y1="104.40" x2="620.00" y2="81.98" stroke="#555" stroke-width="0.8" />
<line x1="615.94" y1="81.98" x2="624.06" y2="81.98" stroke="#555" stroke-width="0.8" />
<line x1="620.00" y1="104.40" x2="620.00" y2="126.82" stroke="#555" stroke-width="0.8" />
<line x1="615.94" y1="126.82" x2="624.06" y2="126.82" stroke="#555" stroke-width="0.8" />
<circle cx="520.00" cy="66.22" r="2.65"/>
<circle cx="520.00" cy="78.90" r="2.65"/>
<circle cx="522.70" cy="80.85" r="2.65"/>
<circle cx="520.00" cy="84.84" r="2.65"/>
<circle cx="516.40" cy="85.72" r="2.65"/>
<circle cx="520.00" cy="89.27" r="2.65"/>
<circle cx="522.70" cy="90.69" r="2.65"/>
<circle cx="520.00" cy="92.19" r="2.65"/>
<circle cx="520.00" cy="97.07" r="2.65"/>
<circle cx="517.30" cy="98.49" r="2.65"/>
<circle cx="520.00" cy="99.99" r="2.65"/>
<circle cx="522.70" cy="100.97" r="2.65"/>
<circle cx="518.20" cy="102.48" r="2.65"/>
<circle cx="520.90" cy="103.89" r="2.65"/>
<circle cx="518.20" cy="105.40" r="2.65"/>
<circle cx="522.70" cy="106.38" r="2.65"/>
<circle cx="520.00" cy="113.73" r="2.65"/>
<circle cx="516.40" cy="114.18" r="2.65"/>
<circle cx="522.70" cy="114.71" r="2.65"/>
<circle cx="518.20" cy="115.24" r="2.65"/>
<circle cx="520.90" cy="115.68" r="2.65"/>
<circle cx="520.00" cy="118.61" r="2.65"/>
<circle cx="522.70" cy="119.67" r="2.65"/>
<circle cx="520.00" cy="128.45" r="2.65"/>
<circle cx="520.00" cy="134.83" r="2.65"/>
<rect x="542.53" y="35.48" width="4.94" height="4.94"/>
<rect x="542.53" y="61.89" width="4.94" height="4.94"/>
<rect x="546.13" y="62.24" width="4.94" height="4.94"/>
<rect x="542.53" y="86.80" width="4.94" height="4.94"/>
<rect x="542.53" y="105.86" width="4.94" height="4.94"/>
<rect x="542.53" y="109.05" width="4.94" height="4.94"/>
<rect x="545.23" y="110.82" width="4.94" height="4.94"/>
<rect x="542.53" y="112.15" width="4.94" height="4.94"/>
<rect x="539.83" y="113.48" width="4.94" height="4.94"/>
<rect x="542.53" y="116.14" width="4.94" height="4.94"/>
<rect x="539.83" y="117.40" width="4.94" height="4.94"/>
<rect x="544.33" y="118.67" width="4.94" height="4.94"/>
<rect x="541.63" y="119.94" width="4.94" height="4.94"/>
<rect x="538.93" y="121.20" width="4.94" height="4.94"/>
<rect x="543.43" y="122.47" width="4.94" height="4.94"/>
<rect x="540.73" y="123.74" width="4.94" height="4.94"/>
<rect x="545.23" y="125.00" width="4.94" height="4.94"/>
<rect x="542.53" y="126.27" width="4.94" height="4.94"/>
<rect x="539.83" y="127.53" width="4.94" height="4.94"/>
<rect x="544.33" y="128.80" width="4.94" height="4.94"/>
<rect x="541.63" y="130.07" width="4.94" height="4.94"/>
<rect x="538.93" y="131.33" width="4.94" height="4.94"/>
<rect x="543.43" y="132.60" width="4.94" height="4.94"/>
<rect x="540.73" y="133.87" width="4.94" height="4.94"/>
<rect x="545.23" y="135.13" width="4.94" height="4.94"/>
<rect x="542.53" y="136.40" width="4.94" height="4.94"/>
<rect x="539.83" y="137.66" width="4.94" height="4.94"/>
<rect x="544.33" y="138.93" width="4.94" height="4.94"/>
<rect x="541.63" y="140.20" width="4.94" height="4.94"/>
<rect x="538.93" y="141.46" width="4.94" height="4.94"/>
<rect x="542.53" y="142.73" width="4.94" height="4.94"/>
<polygon points="591.78,88.69 598.22,88.69 595.00,93.75"/>
<polygon points="591.78,98.53 598.22,98.53 595.00,103.59"/>
<polygon points="589.08,99.59 595.52,99.59 592.30,104.65"/>
<polygon points="593.58,100.83 600.02,100.83 596.80,105.89"/>
<polygon points="590.88,102.25 597.32,102.25 594.10,107.31"/>
<polygon points="593.58,104.20 600.02,104.20 596.80,109.26"/>
<polygon points="590.88,105.26 597.32,105.26 594.10,110.32"/>
<polygon points="587.28,106.15 593.72,106.15 590.50,111.21"/>
<polygon points="591.78,109.52 598.22,109.52 595.00,114.58"/>
<polygon points="595.38,110.40 601.82,110.40 598.60,115.47"/>
<polygon points="589.08,111.29 595.52,111.29 592.30,116.35"/>
<polygon points="586.38,112.18 592.82,112.18 589.60,117.24"/>
<polygon points="591.78,113.06 598.22,113.06 595.00,118.13"/>
<polygon points="595.38,113.95 601.82,113.95 598.60,119.01"/>
<polygon points="589.08,114.84 595.52,114.84 592.30,119.90"/>
<polygon points="586.38,115.72 592.82,115.72 589.60,120.78"/>
<polygon points="591.78,116.61 598.22,116.61 595.00,121.67"/>
<polygon points="595.38,117.05 601.82,117.05 598.60,122.11"/>
<polygon points="591.78,119.71 598.22,119.71 595.00,124.77"/>
<polygon points="589.08,121.04 595.52,121.04 592.30,126.10"/>
<polygon points="591.78,122.81 598.22,122.81 595.00,127.88"/>
<polygon points="589.08,124.59 595.52,124.59 592.30,129.65"/>
<polygon points="591.78,126.36 598.22,126.36 595.00,131.42"/>
<polygon points="589.08,127.69 595.52,127.69 592.30,132.75"/>
<polygon points="591.78,133.81 598.22,133.81 595.00,138.87"/>
<polygon points="620.00,54.46 623.43,57.89 620.00,61.32 616.57,57.89"/>
<polygon points="617.30,56.67 620.73,60.11 617.30,63.54 613.87,60.11"/>
<polygon points="620.00,73.96 623.43,77.39 620.00,80.82 616.57,77.39"/>
<polygon points="620.00,79.01 623.43,82.44 620.00,85.87 616.57,82.44"/>
<polygon points="617.30,81.40 620.73,84.84 617.30,88.27 613.87,84.84"/>
<polygon points="620.00,83.27 623.43,86.70 620.00,90.13 616.57,86.70"/>
<polygon points="620.00,89.20 623.43,92.64 620.00,96.07 616.57,92.64"/>
<polygon points="622.70,91.15 626.13,94.59 622.70,98.02 619.27,94.59"/>
<polygon points="620.00,93.46 623.43,96.89 620.00,100.32 616.57,96.89"/>
<polygon points="617.30,95.05 620.73,98.49 617.30,101.92 613.87,98.49"/>
<polygon points="621.80,96.12 625.23,99.55 621.80,102.98 618.37,99.55"/>
<polygon points="624.50,97.09 627.93,100.53 624.50,103.96 621.07,100.53"/>
<polygon points="620.00,100.11 623.43,103.54 620.00,106.97 616.57,103.54"/>
<polygon points="623.60,101.44 627.03,104.87 623.60,108.30 620.17,104.87"/>
<polygon points="618.20,102.77 621.63,106.20 618.20,109.63 614.77,106.20"/>
<polygon points="620.90,104.89 624.33,108.33 620.90,111.76 617.47,108.33"/>
<polygon points="620.00,116.68 623.43,120.11 620.00,123.55 616.57,120.11"/>
<polygon points="622.70,118.28 626.13,121.71 622.70,125.14 619.27,121.71"/>
<polygon points="618.20,119.61 621.63,123.04 618.20,126.47 614.77,123.04"/>
<polygon points="624.50,120.58 627.93,124.02 624.50,127.45 621.07,124.02"/>
<polygon points="620.00,124.48 623.43,127.92 620.00,131.35 616.57,127.92"/>
<polygon points="621.80,127.41 625.23,130.84 621.80,134.27 618.37,130.84"/>
<polygon points="620.00,136.27 623.43,139.70 620.00,143.14 616.57,139.70"/>
<polygon points="617.30,138.22 620.73,141.65 617.30,145.09 613.87,141.65"/>
<line x1="503.25" y1="11.65" x2="503.25" y2="145.80" stroke="#000" stroke-width="1.6" />
<line x1="497.75" y1="12.24" x2="503.25" y2="12.24" stroke="#000" stroke-width="1.4" />
<text x="496.25" y="15.15" font-size="9.7" font-weight="bold" text-anchor="end">1500</text>
<line x1="497.75" y1="56.56" x2="503.25" y2="56.56" stroke="#000" stroke-width="1.4" />
<text x="496.25" y="59.47" font-size="9.7" font-weight="bold" text-anchor="end">1000</text>
<line x1="497.75" y1="100.88" x2="503.25" y2="100.88" stroke="#000" stroke-width="1.4" />
<text x="496.25" y="103.79" font-size="9.7" font-weight="bold" text-anchor="end">500</text>
<line x1="497.75" y1="145.20" x2="503.25" y2="145.20" stroke="#000" stroke-width="1.4" />
<text x="496.25" y="148.11" font-size="9.7" font-weight="bold" text-anchor="end">0</text>
<line x1="497.75" y1="145.20" x2="637.00" y2="145.20" stroke="#000" stroke-width="1.6" />
<line x1="520.00" y1="145.20" x2="520.00" y2="150.50" stroke="#000" stroke-width="1.4" />
<line x1="545.00" y1="145.20" x2="545.00" y2="150.50" stroke="#000" stroke-width="1.4" />
<line x1="570.00" y1="145.20" x2="570.00" y2="150.50" stroke="#000" stroke-width="1.4" />
<line x1="595.00" y1="145.20" x2="595.00" y2="150.50" stroke="#000" stroke-width="1.4" />
<line x1="620.00" y1="145.20" x2="620.00" y2="150.50" stroke="#000" stroke-width="1.4" />
<text x="523.50" y="156.10" font-size="9.4" font-weight="bold" text-anchor="end" transform="rotate(-50.6 523.50 156.10)">Sterile Water Injected</text>
<text x="548.50" y="156.10" font-size="9.4" font-weight="bold" text-anchor="end" transform="rotate(-50.6 548.50 156.10)">EBV DNA Injected</text>
<text x="598.50" y="156.10" font-size="9.4" font-weight="bold" text-anchor="end" transform="rotate(-50.6 598.50 156.10)">PBS Injected</text>
<text x="623.50" y="156.10" font-size="9.4" font-weight="bold" text-anchor="end" transform="rotate(-50.6 623.50 156.10)">EBV <tspan font-size="4.75" font-weight="normal" fill="#222" dy="2.6">70 viral particles</tspan><tspan dy="-2.6"> Injected</tspan></text>
<text x="467.30" y="76.10" font-size="9.4" font-weight="bold" text-anchor="middle" textLength="116.60" lengthAdjust="spacingAndGlyphs" transform="rotate(-90 467.30 76.10)">Average activity/day (min)</text>
<text x="433.60" y="21.00" font-size="17.5" font-weight="bold">b</text>
<line x1="519.10" y1="29.20" x2="544.70" y2="29.20" stroke="#111" stroke-width="1.1" />
<polygon points="523.20,22.20 523.88,23.87 525.67,24.00 524.29,25.16 524.73,26.90 523.20,25.95 521.67,26.90 522.11,25.16 520.73,24.00 522.52,23.87" fill="#1a1a1a" stroke="#1a1a1a" stroke-width="0.25"/>
<polygon points="528.80,22.20 529.48,23.87 531.27,24.00 529.89,25.16 530.33,26.90 528.80,25.95 527.27,26.90 527.71,25.16 526.33,24.00 528.12,23.87" fill="#1a1a1a" stroke="#1a1a1a" stroke-width="0.25"/>
<polygon points="534.40,22.20 535.08,23.87 536.87,24.00 535.49,25.16 535.93,26.90 534.40,25.95 532.87,26.90 533.31,25.16 531.93,24.00 533.72,23.87" fill="#1a1a1a" stroke="#1a1a1a" stroke-width="0.25"/>
<polygon points="540.00,22.20 540.68,23.87 542.47,24.00 541.09,25.16 541.53,26.90 540.00,25.95 538.47,26.90 538.91,25.16 537.53,24.00 539.32,23.87" fill="#1a1a1a" stroke="#1a1a1a" stroke-width="0.25"/>
<line x1="547.10" y1="16.30" x2="618.60" y2="16.30" stroke="#111" stroke-width="1.1" />
<polygon points="578.50,8.20 579.18,9.87 580.97,10.00 579.59,11.16 580.03,12.90 578.50,11.95 576.97,12.90 577.41,11.16 576.03,10.00 577.82,9.87" fill="#1a1a1a" stroke="#1a1a1a" stroke-width="0.25"/>
<polygon points="584.10,8.20 584.78,9.87 586.57,10.00 585.19,11.16 585.63,12.90 584.10,11.95 582.57,12.90 583.01,11.16 581.63,10.00 583.42,9.87" fill="#1a1a1a" stroke="#1a1a1a" stroke-width="0.25"/>
<line x1="518.30" y1="229.50" x2="622.30" y2="229.50" stroke="#111" stroke-width="1.3" />
<circle cx="558.40" cy="239.50" r="3.3" fill="none" stroke="#8a8a8a" stroke-width="0.85"/>
<line x1="559.95" y1="236.59" x2="562.27" y2="232.22" stroke="#8a8a8a" stroke-width="0.85"/>
<line x1="562.27" y1="232.22" x2="560.17" y2="233.53" stroke="#8a8a8a" stroke-width="0.85"/>
<line x1="562.27" y1="232.22" x2="562.36" y2="234.69" stroke="#8a8a8a" stroke-width="0.85"/>
<text x="567.70" y="241.30" font-size="12.5" font-weight="bold" font-style="italic" textLength="11.20" lengthAdjust="spacingAndGlyphs">W</text>
<text x="579.29" y="236.68" font-size="7.0" font-weight="bold" font-style="italic" textLength="13.25" lengthAdjust="spacingAndGlyphs">1118</text>
<rect x="512.60" y="338.00" width="15.60" height="42.40" fill="#fff" stroke="#2a2a2a" stroke-width="0.85"/>
<rect x="537.80" y="354.40" width="15.60" height="26.00" fill="#fff" stroke="#2a2a2a" stroke-width="0.85"/>
<rect x="588.20" y="342.20" width="15.60" height="38.20" fill="#fff" stroke="#2a2a2a" stroke-width="0.85"/>
<rect x="613.20" y="340.50" width="15.60" height="39.90" fill="#fff" stroke="#2a2a2a" stroke-width="0.85"/>
<line x1="520.40" y1="338.00" x2="520.40" y2="315.90" stroke="#555" stroke-width="0.8" />
<line x1="516.34" y1="315.90" x2="524.46" y2="315.90" stroke="#555" stroke-width="0.8" />
<line x1="520.40" y1="338.00" x2="520.40" y2="357.63" stroke="#555" stroke-width="0.8" />
<line x1="516.34" y1="357.63" x2="524.46" y2="357.63" stroke="#555" stroke-width="0.8" />
<line x1="545.60" y1="354.40" x2="545.60" y2="326.40" stroke="#555" stroke-width="0.8" />
<line x1="541.54" y1="326.40" x2="549.66" y2="326.40" stroke="#555" stroke-width="0.8" />
<line x1="596.00" y1="342.20" x2="596.00" y2="320.00" stroke="#555" stroke-width="0.8" />
<line x1="591.94" y1="320.00" x2="600.06" y2="320.00" stroke="#555" stroke-width="0.8" />
<line x1="596.00" y1="342.20" x2="596.00" y2="364.40" stroke="#555" stroke-width="0.8" />
<line x1="591.94" y1="364.40" x2="600.06" y2="364.40" stroke="#555" stroke-width="0.8" />
<line x1="621.00" y1="340.50" x2="621.00" y2="315.40" stroke="#555" stroke-width="0.8" />
<line x1="616.94" y1="315.40" x2="625.06" y2="315.40" stroke="#555" stroke-width="0.8" />
<line x1="621.00" y1="340.50" x2="621.00" y2="364.10" stroke="#555" stroke-width="0.8" />
<line x1="616.94" y1="364.10" x2="625.06" y2="364.10" stroke="#555" stroke-width="0.8" />
<circle cx="520.40" cy="302.02" r="2.65"/>
<circle cx="520.40" cy="307.08" r="2.65"/>
<circle cx="515.90" cy="308.68" r="2.65"/>
<circle cx="524.00" cy="310.28" r="2.65"/>
<circle cx="519.50" cy="311.79" r="2.65"/>
<circle cx="520.40" cy="320.49" r="2.65"/>
<circle cx="524.90" cy="322.62" r="2.65"/>
<circle cx="516.80" cy="323.59" r="2.65"/>
<circle cx="520.40" cy="327.14" r="2.65"/>
<circle cx="515.90" cy="329.27" r="2.65"/>
<circle cx="520.40" cy="332.38" r="2.65"/>
<circle cx="525.80" cy="332.38" r="2.65"/>
<circle cx="523.10" cy="336.46" r="2.65"/>
<circle cx="518.60" cy="338.59" r="2.65"/>
<circle cx="525.80" cy="340.10" r="2.65"/>
<circle cx="521.30" cy="342.68" r="2.65"/>
<circle cx="516.80" cy="344.72" r="2.65"/>
<circle cx="525.80" cy="345.16" r="2.65"/>
<circle cx="520.40" cy="346.76" r="2.65"/>
<circle cx="524.00" cy="349.87" r="2.65"/>
<circle cx="517.70" cy="350.93" r="2.65"/>
<circle cx="521.30" cy="354.04" r="2.65"/>
<circle cx="520.40" cy="364.33" r="2.65"/>
<circle cx="524.90" cy="366.38" r="2.65"/>
<circle cx="520.40" cy="377.74" r="2.65"/>
<rect x="543.13" y="291.83" width="4.94" height="4.94"/>
<rect x="542.23" y="293.61" width="4.94" height="4.94"/>
<rect x="543.13" y="295.92" width="4.94" height="4.94"/>
<rect x="543.13" y="302.48" width="4.94" height="4.94"/>
<rect x="544.03" y="304.17" width="4.94" height="4.94"/>
<rect x="543.13" y="308.25" width="4.94" height="4.94"/>
<rect x="543.13" y="310.83" width="4.94" height="4.94"/>
<rect x="543.13" y="318.55" width="4.94" height="4.94"/>
<rect x="543.13" y="336.21" width="4.94" height="4.94"/>
<rect x="544.03" y="338.35" width="4.94" height="4.94"/>
<rect x="542.23" y="340.49" width="4.94" height="4.94"/>
<rect x="544.03" y="342.63" width="4.94" height="4.94"/>
<rect x="542.23" y="344.78" width="4.94" height="4.94"/>
<rect x="544.03" y="346.92" width="4.94" height="4.94"/>
<rect x="542.23" y="349.06" width="4.94" height="4.94"/>
<rect x="544.03" y="351.20" width="4.94" height="4.94"/>
<rect x="542.23" y="353.34" width="4.94" height="4.94"/>
<rect x="544.03" y="355.48" width="4.94" height="4.94"/>
<rect x="542.23" y="357.62" width="4.94" height="4.94"/>
<rect x="544.03" y="359.76" width="4.94" height="4.94"/>
<rect x="542.23" y="361.90" width="4.94" height="4.94"/>
<rect x="544.03" y="364.04" width="4.94" height="4.94"/>
<rect x="542.23" y="366.18" width="4.94" height="4.94"/>
<rect x="544.03" y="368.32" width="4.94" height="4.94"/>
<rect x="542.23" y="370.46" width="4.94" height="4.94"/>
<rect x="544.03" y="372.60" width="4.94" height="4.94"/>
<rect x="543.13" y="377.93" width="4.94" height="4.94"/>
<rect x="540.43" y="377.93" width="4.94" height="4.94"/>
<rect x="545.83" y="377.93" width="4.94" height="4.94"/>
<rect x="537.73" y="377.93" width="4.94" height="4.94"/>
<rect x="548.53" y="377.93" width="4.94" height="4.94"/>
<rect x="544.93" y="377.93" width="4.94" height="4.94"/>
<polygon points="592.78,285.03 599.22,285.03 596.00,290.09"/>
<polygon points="592.78,297.54 599.22,297.54 596.00,302.60"/>
<polygon points="592.78,313.70 599.22,313.70 596.00,318.76"/>
<polygon points="592.78,318.49 599.22,318.49 596.00,323.55"/>
<polygon points="597.28,321.24 603.72,321.24 600.50,326.30"/>
<polygon points="592.78,326.12 599.22,326.12 596.00,331.18"/>
<polygon points="592.78,334.20 599.22,334.20 596.00,339.26"/>
<polygon points="588.28,336.33 594.72,336.33 591.50,341.39"/>
<polygon points="596.38,337.48 602.82,337.48 599.60,342.54"/>
<polygon points="592.78,340.68 599.22,340.68 596.00,345.74"/>
<polygon points="594.58,345.03 601.02,345.03 597.80,350.09"/>
<polygon points="589.18,345.91 595.62,345.91 592.40,350.98"/>
<polygon points="592.78,352.66 599.22,352.66 596.00,357.72"/>
<polygon points="587.38,353.55 593.82,353.55 590.60,358.61"/>
<polygon points="597.28,354.44 603.72,354.44 600.50,359.50"/>
<polygon points="590.08,354.79 596.52,354.79 593.30,359.85"/>
<polygon points="592.78,361.80 599.22,361.80 596.00,366.86"/>
<polygon points="587.38,362.16 593.82,362.16 590.60,367.22"/>
<polygon points="598.18,362.60 604.62,362.60 601.40,367.66"/>
<polygon points="590.08,363.05 596.52,363.05 593.30,368.11"/>
<polygon points="621.00,292.29 624.43,295.72 621.00,299.15 617.57,295.72"/>
<polygon points="621.00,303.30 624.43,306.73 621.00,310.16 617.57,306.73"/>
<polygon points="615.60,304.18 619.03,307.62 615.60,311.05 612.17,307.62"/>
<polygon points="621.00,308.98 624.43,312.41 621.00,315.84 617.57,312.41"/>
<polygon points="621.00,314.39 624.43,317.82 621.00,321.26 617.57,317.82"/>
<polygon points="621.00,321.94 624.43,325.37 621.00,328.80 617.57,325.37"/>
<polygon points="626.40,323.09 629.83,326.52 626.40,329.95 622.97,326.52"/>
<polygon points="621.00,327.35 624.43,330.78 621.00,334.22 617.57,330.78"/>
<polygon points="616.50,330.10 619.93,333.53 616.50,336.97 613.07,333.53"/>
<polygon points="622.80,331.70 626.23,335.13 622.80,338.56 619.37,335.13"/>
<polygon points="626.40,332.77 629.83,336.20 626.40,339.63 622.97,336.20"/>
<polygon points="619.20,335.52 622.63,338.95 619.20,342.38 615.77,338.95"/>
<polygon points="623.70,336.58 627.13,340.01 623.70,343.45 620.27,340.01"/>
<polygon points="615.60,338.80 619.03,342.23 615.60,345.67 612.17,342.23"/>
<polygon points="621.00,342.00 624.43,345.43 621.00,348.86 617.57,345.43"/>
<polygon points="625.50,344.66 628.93,348.09 625.50,351.52 622.07,348.09"/>
<polygon points="621.00,351.14 624.43,354.57 621.00,358.00 617.57,354.57"/>
<polygon points="621.00,368.45 624.43,371.88 621.00,375.31 617.57,371.88"/>
<polygon points="621.00,376.97 624.43,380.40 621.00,383.83 617.57,380.40"/>
<polygon points="626.40,376.97 629.83,380.40 626.40,383.83 622.97,380.40"/>
<polygon points="615.60,376.97 619.03,380.40 615.60,383.83 612.17,380.40"/>
<polygon points="618.30,376.97 621.73,380.40 618.30,383.83 614.87,380.40"/>
<polygon points="623.70,376.97 627.13,380.40 623.70,383.83 620.27,380.40"/>
<line x1="504.10" y1="246.65" x2="504.10" y2="381.00" stroke="#000" stroke-width="1.6" />
<line x1="498.60" y1="247.26" x2="504.10" y2="247.26" stroke="#000" stroke-width="1.4" />
<text x="497.10" y="250.17" font-size="9.7" font-weight="bold" text-anchor="end">1500</text>
<line x1="498.60" y1="291.64" x2="504.10" y2="291.64" stroke="#000" stroke-width="1.4" />
<text x="497.10" y="294.55" font-size="9.7" font-weight="bold" text-anchor="end">1000</text>
<line x1="498.60" y1="336.02" x2="504.10" y2="336.02" stroke="#000" stroke-width="1.4" />
<text x="497.10" y="338.93" font-size="9.7" font-weight="bold" text-anchor="end">500</text>
<line x1="498.60" y1="380.40" x2="504.10" y2="380.40" stroke="#000" stroke-width="1.4" />
<text x="497.10" y="383.31" font-size="9.7" font-weight="bold" text-anchor="end">0</text>
<line x1="498.60" y1="380.40" x2="637.00" y2="380.40" stroke="#000" stroke-width="1.6" />
<line x1="520.40" y1="380.40" x2="520.40" y2="385.70" stroke="#000" stroke-width="1.4" />
<line x1="545.60" y1="380.40" x2="545.60" y2="385.70" stroke="#000" stroke-width="1.4" />
<line x1="570.60" y1="380.40" x2="570.60" y2="385.70" stroke="#000" stroke-width="1.4" />
<line x1="596.00" y1="380.40" x2="596.00" y2="385.70" stroke="#000" stroke-width="1.4" />
<line x1="621.00" y1="380.40" x2="621.00" y2="385.70" stroke="#000" stroke-width="1.4" />
<text x="523.60" y="389.20" font-size="9.4" font-weight="bold" text-anchor="end" transform="rotate(-50.6 523.60 389.20)">Sterile Water Injected</text>
<text x="548.80" y="389.20" font-size="9.4" font-weight="bold" text-anchor="end" transform="rotate(-50.6 548.80 389.20)">EBV DNA Injected</text>
<text x="599.20" y="389.20" font-size="9.4" font-weight="bold" text-anchor="end" transform="rotate(-50.6 599.20 389.20)">PBS Injected</text>
<text x="624.20" y="389.20" font-size="9.4" font-weight="bold" text-anchor="end" transform="rotate(-50.6 624.20 389.20)">EBV <tspan font-size="4.75" font-weight="normal" fill="#222" dy="2.6">70 viral particles</tspan><tspan dy="-2.6"> Injected</tspan></text>
<text x="467.30" y="314.40" font-size="9.4" font-weight="bold" text-anchor="middle" textLength="116.20" lengthAdjust="spacingAndGlyphs" transform="rotate(-90 467.30 314.40)">Average activity/day (min)</text>
<text x="433.60" y="242.40" font-size="17.5" font-weight="bold">d</text>
<line x1="519.00" y1="284.60" x2="545.00" y2="284.60" stroke="#111" stroke-width="1.1" />
<polygon points="528.70,278.50 529.38,280.17 531.17,280.30 529.79,281.46 530.23,283.20 528.70,282.25 527.17,283.20 527.61,281.46 526.23,280.30 528.02,280.17" fill="#1a1a1a" stroke="#1a1a1a" stroke-width="0.25"/>
<polygon points="534.30,278.50 534.98,280.17 536.77,280.30 535.39,281.46 535.83,283.20 534.30,282.25 532.77,283.20 533.21,281.46 531.83,280.30 533.62,280.17" fill="#1a1a1a" stroke="#1a1a1a" stroke-width="0.25"/>
<line x1="514.80" y1="464.90" x2="618.50" y2="464.90" stroke="#111" stroke-width="1.3" />
<circle cx="558.90" cy="475.80" r="3.3" fill="none" stroke="#8a8a8a" stroke-width="0.85"/>
<line x1="560.45" y1="472.89" x2="562.77" y2="468.52" stroke="#8a8a8a" stroke-width="0.85"/>
<line x1="562.77" y1="468.52" x2="560.67" y2="469.83" stroke="#8a8a8a" stroke-width="0.85"/>
<line x1="562.77" y1="468.52" x2="562.86" y2="470.99" stroke="#8a8a8a" stroke-width="0.85"/>
<text x="567.10" y="477.60" font-size="12.5" font-weight="bold" font-style="italic" textLength="11.20" lengthAdjust="spacingAndGlyphs">W</text>
<text x="578.69" y="472.98" font-size="7.0" font-weight="bold" font-style="italic" textLength="13.25" lengthAdjust="spacingAndGlyphs">1118</text>
<rect x="395.25" y="564.40" width="18.50" height="78.60" fill="#fff" stroke="#2a2a2a" stroke-width="0.85"/>
<rect x="423.05" y="548.00" width="18.50" height="95.00" fill="#fff" stroke="#2a2a2a" stroke-width="0.85"/>
<rect x="450.75" y="548.00" width="18.50" height="95.00" fill="#fff" stroke="#2a2a2a" stroke-width="0.85"/>
<rect x="478.55" y="555.40" width="18.50" height="87.60" fill="#fff" stroke="#2a2a2a" stroke-width="0.85"/>
<line x1="404.50" y1="564.40" x2="404.50" y2="553.45" stroke="#555" stroke-width="0.8" />
<line x1="399.69" y1="553.45" x2="409.31" y2="553.45" stroke="#555" stroke-width="0.8" />
<line x1="404.50" y1="564.40" x2="404.50" y2="575.35" stroke="#555" stroke-width="0.8" />
<line x1="399.69" y1="575.35" x2="409.31" y2="575.35" stroke="#555" stroke-width="0.8" />
<line x1="432.30" y1="548.00" x2="432.30" y2="535.51" stroke="#555" stroke-width="0.8" />
<line x1="427.49" y1="535.51" x2="437.11" y2="535.51" stroke="#555" stroke-width="0.8" />
<line x1="432.30" y1="548.00" x2="432.30" y2="560.49" stroke="#555" stroke-width="0.8" />
<line x1="427.49" y1="560.49" x2="437.11" y2="560.49" stroke="#555" stroke-width="0.8" />
<line x1="460.00" y1="548.00" x2="460.00" y2="540.78" stroke="#555" stroke-width="0.8" />
<line x1="455.19" y1="540.78" x2="464.81" y2="540.78" stroke="#555" stroke-width="0.8" />
<line x1="460.00" y1="548.00" x2="460.00" y2="555.22" stroke="#555" stroke-width="0.8" />
<line x1="455.19" y1="555.22" x2="464.81" y2="555.22" stroke="#555" stroke-width="0.8" />
<line x1="487.80" y1="555.40" x2="487.80" y2="542.12" stroke="#555" stroke-width="0.8" />
<line x1="482.99" y1="542.12" x2="492.61" y2="542.12" stroke="#555" stroke-width="0.8" />
<line x1="487.80" y1="555.40" x2="487.80" y2="568.68" stroke="#555" stroke-width="0.8" />
<line x1="482.99" y1="568.68" x2="492.61" y2="568.68" stroke="#555" stroke-width="0.8" />
<circle cx="404.50" cy="539.21" r="2.65"/>
<circle cx="400.00" cy="540.80" r="2.65"/>
<circle cx="404.50" cy="551.18" r="2.65"/>
<circle cx="409.00" cy="552.78" r="2.65"/>
<circle cx="404.50" cy="556.77" r="2.65"/>
<circle cx="400.00" cy="559.17" r="2.65"/>
<circle cx="407.20" cy="560.76" r="2.65"/>
<circle cx="402.70" cy="562.36" r="2.65"/>
<circle cx="398.20" cy="563.16" r="2.65"/>
<circle cx="410.80" cy="563.96" r="2.65"/>
<circle cx="406.30" cy="564.76" r="2.65"/>
<circle cx="400.90" cy="565.56" r="2.65"/>
<circle cx="409.00" cy="566.35" r="2.65"/>
<circle cx="403.60" cy="567.15" r="2.65"/>
<circle cx="398.20" cy="567.95" r="2.65"/>
<circle cx="406.30" cy="568.75" r="2.65"/>
<circle cx="410.80" cy="569.55" r="2.65"/>
<circle cx="401.80" cy="571.14" r="2.65"/>
<circle cx="408.10" cy="572.74" r="2.65"/>
<circle cx="398.20" cy="573.54" r="2.65"/>
<circle cx="404.50" cy="574.34" r="2.65"/>
<circle cx="410.80" cy="575.93" r="2.65"/>
<circle cx="400.90" cy="577.53" r="2.65"/>
<circle cx="404.50" cy="586.31" r="2.65"/>
<rect x="429.83" y="525.56" width="4.94" height="4.94"/>
<rect x="426.23" y="527.16" width="4.94" height="4.94"/>
<rect x="432.53" y="528.75" width="4.94" height="4.94"/>
<rect x="428.93" y="530.35" width="4.94" height="4.94"/>
<rect x="425.33" y="531.95" width="4.94" height="4.94"/>
<rect x="432.53" y="532.75" width="4.94" height="4.94"/>
<rect x="436.13" y="533.54" width="4.94" height="4.94"/>
<rect x="428.93" y="534.34" width="4.94" height="4.94"/>
<rect x="423.53" y="535.14" width="4.94" height="4.94"/>
<rect x="433.43" y="535.94" width="4.94" height="4.94"/>
<rect x="426.23" y="536.74" width="4.94" height="4.94"/>
<rect x="429.83" y="537.54" width="4.94" height="4.94"/>
<rect x="436.13" y="538.33" width="4.94" height="4.94"/>
<rect x="423.53" y="539.13" width="4.94" height="4.94"/>
<rect x="432.53" y="539.93" width="4.94" height="4.94"/>
<rect x="427.13" y="540.73" width="4.94" height="4.94"/>
<rect x="436.13" y="541.53" width="4.94" height="4.94"/>
<rect x="423.53" y="542.33" width="4.94" height="4.94"/>
<rect x="430.73" y="543.13" width="4.94" height="4.94"/>
<rect x="427.13" y="544.72" width="4.94" height="4.94"/>
<rect x="433.43" y="546.32" width="4.94" height="4.94"/>
<rect x="429.83" y="548.71" width="4.94" height="4.94"/>
<rect x="426.23" y="551.11" width="4.94" height="4.94"/>
<rect x="429.83" y="552.71" width="4.94" height="4.94"/>
<rect x="433.43" y="554.30" width="4.94" height="4.94"/>
<rect x="429.83" y="556.70" width="4.94" height="4.94"/>
<rect x="429.83" y="560.69" width="4.94" height="4.94"/>
<rect x="429.83" y="564.68" width="4.94" height="4.94"/>
<rect x="433.43" y="566.28" width="4.94" height="4.94"/>
<rect x="429.83" y="576.66" width="4.94" height="4.94"/>
<polygon points="456.78,538.01 463.22,538.01 460.00,532.95"/>
<polygon points="461.28,539.61 467.72,539.61 464.50,534.55"/>
<polygon points="454.08,541.21 460.52,541.21 457.30,536.15"/>
<polygon points="458.58,542.80 465.02,542.80 461.80,537.74"/>
<polygon points="450.48,543.60 456.92,543.60 453.70,538.54"/>
<polygon points="463.08,544.40 469.52,544.40 466.30,539.34"/>
<polygon points="454.98,545.20 461.42,545.20 458.20,540.14"/>
<polygon points="459.48,546.00 465.92,546.00 462.70,540.94"/>
<polygon points="451.38,546.80 457.82,546.80 454.60,541.73"/>
<polygon points="463.08,547.59 469.52,547.59 466.30,542.53"/>
<polygon points="456.78,548.39 463.22,548.39 460.00,543.33"/>
<polygon points="460.38,549.19 466.82,549.19 463.60,544.13"/>
<polygon points="453.18,549.99 459.62,549.99 456.40,544.93"/>
<polygon points="463.08,550.79 469.52,550.79 466.30,545.73"/>
<polygon points="457.68,551.59 464.12,551.59 460.90,546.52"/>
<polygon points="450.48,553.18 456.92,553.18 453.70,548.12"/>
<polygon points="454.98,554.78 461.42,554.78 458.20,549.72"/>
<polygon points="458.58,557.17 465.02,557.17 461.80,552.11"/>
<polygon points="455.88,560.37 462.32,560.37 459.10,555.31"/>
<polygon points="456.78,567.55 463.22,567.55 460.00,562.49"/>
<polygon points="484.58,526.83 491.02,526.83 487.80,531.89"/>
<polygon points="480.98,529.23 487.42,529.23 484.20,534.29"/>
<polygon points="484.58,530.82 491.02,530.82 487.80,535.88"/>
<polygon points="484.58,537.21 491.02,537.21 487.80,542.27"/>
<polygon points="480.98,538.81 487.42,538.81 484.20,543.87"/>
<polygon points="484.58,541.20 491.02,541.20 487.80,546.26"/>
<polygon points="488.18,543.60 494.62,543.60 491.40,548.66"/>
<polygon points="484.58,545.19 491.02,545.19 487.80,550.25"/>
<polygon points="480.98,546.79 487.42,546.79 484.20,551.85"/>
<polygon points="484.58,549.19 491.02,549.19 487.80,554.25"/>
<polygon points="480.98,551.58 487.42,551.58 484.20,556.64"/>
<polygon points="484.58,553.18 491.02,553.18 487.80,558.24"/>
<polygon points="489.08,553.98 495.52,553.98 492.30,559.04"/>
<polygon points="478.28,554.77 484.72,554.77 481.50,559.84"/>
<polygon points="481.88,556.37 488.32,556.37 485.10,561.43"/>
<polygon points="485.48,557.97 491.92,557.97 488.70,563.03"/>
<polygon points="489.08,559.56 495.52,559.56 492.30,564.63"/>
<polygon points="482.78,561.16 489.22,561.16 486.00,566.22"/>
<polygon points="486.38,562.76 492.82,562.76 489.60,567.82"/>
<polygon points="480.08,564.35 486.52,564.35 483.30,569.42"/>
<polygon points="483.68,565.95 490.12,565.95 486.90,571.01"/>
<polygon points="486.38,569.15 492.82,569.15 489.60,574.21"/>
<polygon points="482.78,571.54 489.22,571.54 486.00,576.60"/>
<polygon points="486.38,573.14 492.82,573.14 489.60,578.20"/>
<line x1="386.20" y1="522.65" x2="386.20" y2="643.60" stroke="#000" stroke-width="1.6" />
<line x1="380.70" y1="523.24" x2="386.20" y2="523.24" stroke="#000" stroke-width="1.4" />
<text x="379.20" y="526.15" font-size="9.7" font-weight="bold" text-anchor="end">1500</text>
<line x1="380.70" y1="563.16" x2="386.20" y2="563.16" stroke="#000" stroke-width="1.4" />
<text x="379.20" y="566.07" font-size="9.7" font-weight="bold" text-anchor="end">1000</text>
<line x1="380.70" y1="603.08" x2="386.20" y2="603.08" stroke="#000" stroke-width="1.4" />
<text x="379.20" y="605.99" font-size="9.7" font-weight="bold" text-anchor="end">500</text>
<line x1="380.70" y1="643.00" x2="386.20" y2="643.00" stroke="#000" stroke-width="1.4" />
<text x="379.20" y="645.91" font-size="9.7" font-weight="bold" text-anchor="end">0</text>
<line x1="380.70" y1="643.00" x2="506.60" y2="643.00" stroke="#000" stroke-width="1.6" />
<line x1="404.50" y1="643.00" x2="404.50" y2="648.30" stroke="#000" stroke-width="1.4" />
<line x1="432.30" y1="643.00" x2="432.30" y2="648.30" stroke="#000" stroke-width="1.4" />
<line x1="460.00" y1="643.00" x2="460.00" y2="648.30" stroke="#000" stroke-width="1.4" />
<line x1="487.80" y1="643.00" x2="487.80" y2="648.30" stroke="#000" stroke-width="1.4" />
<text x="407.50" y="651.80" font-size="9.4" font-weight="bold" text-anchor="end" transform="rotate(-50.6 407.50 651.80)">Sterile Water Injected</text>
<text x="435.30" y="651.80" font-size="9.4" font-weight="bold" text-anchor="end" transform="rotate(-50.6 435.30 651.80)">EBV DNA Injected</text>
<text x="463.00" y="651.80" font-size="9.4" font-weight="bold" text-anchor="end" transform="rotate(-50.6 463.00 651.80)">PBS Injected</text>
<text x="490.80" y="651.80" font-size="9.4" font-weight="bold" text-anchor="end" transform="rotate(-50.6 490.80 651.80)">EBV <tspan font-size="4.75" font-weight="normal" fill="#222" dy="2.6">70 viral particles</tspan><tspan dy="-2.6"> Injected</tspan></text>
<text x="356.50" y="579.50" font-size="9.4" font-weight="bold" text-anchor="middle" textLength="108.10" lengthAdjust="spacingAndGlyphs" transform="rotate(-90 356.50 579.50)">Average sleep/day (min)</text>
<text x="328.60" y="506.00" font-size="17.5" font-weight="bold">f</text>
<line x1="403.00" y1="523.40" x2="429.00" y2="523.40" stroke="#111" stroke-width="1.1" />
<polygon points="407.60,517.00 408.28,518.67 410.07,518.80 408.69,519.96 409.13,521.70 407.60,520.75 406.07,521.70 406.51,519.96 405.13,518.80 406.92,518.67" fill="#1a1a1a" stroke="#1a1a1a" stroke-width="0.25"/>
<polygon points="413.20,517.00 413.88,518.67 415.67,518.80 414.29,519.96 414.73,521.70 413.20,520.75 411.67,521.70 412.11,519.96 410.73,518.80 412.52,518.67" fill="#1a1a1a" stroke="#1a1a1a" stroke-width="0.25"/>
<polygon points="418.80,517.00 419.48,518.67 421.27,518.80 419.89,519.96 420.33,521.70 418.80,520.75 417.27,521.70 417.71,519.96 416.33,518.80 418.12,518.67" fill="#1a1a1a" stroke="#1a1a1a" stroke-width="0.25"/>
<polygon points="424.40,517.00 425.08,518.67 426.87,518.80 425.49,519.96 425.93,521.70 424.40,520.75 422.87,521.70 423.31,519.96 421.93,518.80 423.72,518.67" fill="#1a1a1a" stroke="#1a1a1a" stroke-width="0.25"/>
<line x1="431.60" y1="515.00" x2="485.60" y2="515.00" stroke="#111" stroke-width="1.1" />
<polygon points="457.50,508.00 458.18,509.67 459.97,509.80 458.59,510.96 459.03,512.70 457.50,511.75 455.97,512.70 456.41,510.96 455.03,509.80 456.82,509.67" fill="#1a1a1a" stroke="#1a1a1a" stroke-width="0.25"/>
<line x1="395.00" y1="726.60" x2="478.40" y2="726.60" stroke="#111" stroke-width="1.3" />
<circle cx="422.40" cy="735.40" r="3.3" fill="none" stroke="#8a8a8a" stroke-width="0.85"/>
<line x1="423.95" y1="732.49" x2="426.27" y2="728.12" stroke="#8a8a8a" stroke-width="0.85"/>
<line x1="426.27" y1="728.12" x2="424.17" y2="729.43" stroke="#8a8a8a" stroke-width="0.85"/>
<line x1="426.27" y1="728.12" x2="426.36" y2="730.59" stroke="#8a8a8a" stroke-width="0.85"/>
<text x="430.30" y="737.20" font-size="12.5" font-weight="bold" font-style="italic" textLength="11.20" lengthAdjust="spacingAndGlyphs">W</text>
<text x="441.89" y="732.57" font-size="7.0" font-weight="bold" font-style="italic" textLength="13.25" lengthAdjust="spacingAndGlyphs">1118</text>
<rect x="578.00" y="576.90" width="18.00" height="65.10" fill="#fff" stroke="#2a2a2a" stroke-width="0.85"/>
<rect x="604.00" y="635.60" width="18.00" height="6.40" fill="#fff" stroke="#2a2a2a" stroke-width="0.85"/>
<rect x="631.00" y="612.00" width="18.00" height="30.00" fill="#fff" stroke="#2a2a2a" stroke-width="0.85"/>
<rect x="657.30" y="588.30" width="18.00" height="53.70" fill="#fff" stroke="#2a2a2a" stroke-width="0.85"/>
<line x1="587.00" y1="576.90" x2="587.00" y2="559.28" stroke="#555" stroke-width="0.8" />
<line x1="582.32" y1="559.28" x2="591.68" y2="559.28" stroke="#555" stroke-width="0.8" />
<line x1="587.00" y1="576.90" x2="587.00" y2="594.52" stroke="#555" stroke-width="0.8" />
<line x1="582.32" y1="594.52" x2="591.68" y2="594.52" stroke="#555" stroke-width="0.8" />
<line x1="613.00" y1="635.60" x2="613.00" y2="630.49" stroke="#555" stroke-width="0.8" />
<line x1="608.32" y1="630.49" x2="617.68" y2="630.49" stroke="#555" stroke-width="0.8" />
<line x1="613.00" y1="635.60" x2="613.00" y2="640.71" stroke="#555" stroke-width="0.8" />
<line x1="608.32" y1="640.71" x2="617.68" y2="640.71" stroke="#555" stroke-width="0.8" />
<line x1="640.00" y1="612.00" x2="640.00" y2="596.78" stroke="#555" stroke-width="0.8" />
<line x1="635.32" y1="596.78" x2="644.68" y2="596.78" stroke="#555" stroke-width="0.8" />
<line x1="640.00" y1="612.00" x2="640.00" y2="627.22" stroke="#555" stroke-width="0.8" />
<line x1="635.32" y1="627.22" x2="644.68" y2="627.22" stroke="#555" stroke-width="0.8" />
<line x1="666.30" y1="588.30" x2="666.30" y2="563.92" stroke="#555" stroke-width="0.8" />
<line x1="661.62" y1="563.92" x2="670.98" y2="563.92" stroke="#555" stroke-width="0.8" />
<line x1="666.30" y1="588.30" x2="666.30" y2="612.68" stroke="#555" stroke-width="0.8" />
<line x1="661.62" y1="612.68" x2="670.98" y2="612.68" stroke="#555" stroke-width="0.8" />
<circle cx="587.00" cy="546.47" r="2.65"/>
<circle cx="587.00" cy="551.73" r="2.65"/>
<circle cx="587.00" cy="559.52" r="2.65"/>
<circle cx="592.40" cy="560.67" r="2.65"/>
<circle cx="582.50" cy="561.82" r="2.65"/>
<circle cx="588.80" cy="562.96" r="2.65"/>
<circle cx="593.30" cy="565.25" r="2.65"/>
<circle cx="585.20" cy="566.40" r="2.65"/>
<circle cx="589.70" cy="568.69" r="2.65"/>
<circle cx="583.40" cy="570.98" r="2.65"/>
<circle cx="593.30" cy="572.12" r="2.65"/>
<circle cx="587.90" cy="573.27" r="2.65"/>
<circle cx="581.60" cy="575.56" r="2.65"/>
<circle cx="591.50" cy="576.71" r="2.65"/>
<circle cx="586.10" cy="577.85" r="2.65"/>
<circle cx="580.70" cy="580.14" r="2.65"/>
<circle cx="587.90" cy="582.43" r="2.65"/>
<circle cx="583.40" cy="584.73" r="2.65"/>
<circle cx="589.70" cy="587.02" r="2.65"/>
<circle cx="585.20" cy="589.31" r="2.65"/>
<circle cx="591.50" cy="591.60" r="2.65"/>
<circle cx="587.00" cy="593.89" r="2.65"/>
<circle cx="582.50" cy="596.18" r="2.65"/>
<circle cx="588.80" cy="598.47" r="2.65"/>
<circle cx="585.20" cy="601.91" r="2.65"/>
<circle cx="587.00" cy="611.76" r="2.65"/>
<circle cx="587.00" cy="617.94" r="2.65"/>
<rect x="610.53" y="622.35" width="4.94" height="4.94"/>
<rect x="605.13" y="623.49" width="4.94" height="4.94"/>
<rect x="615.03" y="624.64" width="4.94" height="4.94"/>
<rect x="608.73" y="625.78" width="4.94" height="4.94"/>
<rect x="604.23" y="626.93" width="4.94" height="4.94"/>
<rect x="612.33" y="628.07" width="4.94" height="4.94"/>
<rect x="616.83" y="628.07" width="4.94" height="4.94"/>
<rect x="607.83" y="629.22" width="4.94" height="4.94"/>
<rect x="604.23" y="630.37" width="4.94" height="4.94"/>
<rect x="614.13" y="630.37" width="4.94" height="4.94"/>
<rect x="610.53" y="631.51" width="4.94" height="4.94"/>
<rect x="616.83" y="631.51" width="4.94" height="4.94"/>
<rect x="606.93" y="632.66" width="4.94" height="4.94"/>
<rect x="613.23" y="632.66" width="4.94" height="4.94"/>
<rect x="604.23" y="633.80" width="4.94" height="4.94"/>
<rect x="609.63" y="633.80" width="4.94" height="4.94"/>
<rect x="615.93" y="634.95" width="4.94" height="4.94"/>
<rect x="612.33" y="634.95" width="4.94" height="4.94"/>
<rect x="606.93" y="634.95" width="4.94" height="4.94"/>
<rect x="609.63" y="636.09" width="4.94" height="4.94"/>
<rect x="604.23" y="636.09" width="4.94" height="4.94"/>
<rect x="614.13" y="637.24" width="4.94" height="4.94"/>
<rect x="616.83" y="637.24" width="4.94" height="4.94"/>
<rect x="606.93" y="637.24" width="4.94" height="4.94"/>
<rect x="611.43" y="638.38" width="4.94" height="4.94"/>
<rect x="604.23" y="638.38" width="4.94" height="4.94"/>
<rect x="608.73" y="639.53" width="4.94" height="4.94"/>
<rect x="615.03" y="639.53" width="4.94" height="4.94"/>
<rect x="606.03" y="639.53" width="4.94" height="4.94"/>
<rect x="613.23" y="639.53" width="4.94" height="4.94"/>
<polygon points="636.78,572.29 643.22,572.29 640.00,567.23"/>
<polygon points="636.78,582.83 643.22,582.83 640.00,577.77"/>
<polygon points="636.78,599.32 643.22,599.32 640.00,594.26"/>
<polygon points="632.28,601.62 638.72,601.62 635.50,596.55"/>
<polygon points="638.58,603.91 645.02,603.91 641.80,598.84"/>
<polygon points="634.08,606.20 640.52,606.20 637.30,601.14"/>
<polygon points="637.68,609.63 644.12,609.63 640.90,604.57"/>
<polygon points="633.18,611.92 639.62,611.92 636.40,606.86"/>
<polygon points="639.48,614.22 645.92,614.22 642.70,609.15"/>
<polygon points="634.98,616.51 641.42,616.51 638.20,611.45"/>
<polygon points="641.28,618.80 647.72,618.80 644.50,613.74"/>
<polygon points="631.38,619.94 637.82,619.94 634.60,614.88"/>
<polygon points="636.78,621.09 643.22,621.09 640.00,616.03"/>
<polygon points="643.08,622.23 649.52,622.23 646.30,617.17"/>
<polygon points="633.18,623.38 639.62,623.38 636.40,618.32"/>
<polygon points="639.48,624.53 645.92,624.53 642.70,619.46"/>
<polygon points="635.88,625.67 642.32,625.67 639.10,620.61"/>
<polygon points="630.48,626.82 636.92,626.82 633.70,621.75"/>
<polygon points="643.08,627.96 649.52,627.96 646.30,622.90"/>
<polygon points="638.58,629.11 645.02,629.11 641.80,624.05"/>
<polygon points="634.08,630.25 640.52,630.25 637.30,625.19"/>
<polygon points="663.08,558.67 669.52,558.67 666.30,563.73"/>
<polygon points="657.68,559.82 664.12,559.82 660.90,564.88"/>
<polygon points="667.58,560.96 674.02,560.96 670.80,566.02"/>
<polygon points="661.28,562.11 667.72,562.11 664.50,567.17"/>
<polygon points="664.88,562.11 671.32,562.11 668.10,567.17"/>
<polygon points="656.78,563.25 663.22,563.25 660.00,568.31"/>
<polygon points="669.38,564.40 675.82,564.40 672.60,569.46"/>
<polygon points="663.08,566.69 669.52,566.69 666.30,571.75"/>
<polygon points="658.58,568.98 665.02,568.98 661.80,574.04"/>
<polygon points="664.88,571.27 671.32,571.27 668.10,576.33"/>
<polygon points="660.38,573.56 666.82,573.56 663.60,578.62"/>
<polygon points="666.68,575.85 673.12,575.85 669.90,580.91"/>
<polygon points="663.08,581.58 669.52,581.58 666.30,586.64"/>
<polygon points="666.68,585.02 673.12,585.02 669.90,590.08"/>
<polygon points="663.08,598.76 669.52,598.76 666.30,603.82"/>
<polygon points="667.58,601.05 674.02,601.05 670.80,606.12"/>
<polygon points="663.08,605.64 669.52,605.64 666.30,610.70"/>
<polygon points="667.58,607.93 674.02,607.93 670.80,612.99"/>
<polygon points="663.08,612.51 669.52,612.51 666.30,617.57"/>
<polygon points="658.58,614.80 665.02,614.80 661.80,619.86"/>
<polygon points="664.88,617.09 671.32,617.09 668.10,622.15"/>
<polygon points="663.08,623.96 669.52,623.96 666.30,629.03"/>
<polygon points="657.68,625.11 664.12,625.11 660.90,630.17"/>
<polygon points="667.58,626.26 674.02,626.26 670.80,631.32"/>
<line x1="569.30" y1="526.85" x2="569.30" y2="642.60" stroke="#000" stroke-width="1.6" />
<line x1="563.80" y1="527.45" x2="569.30" y2="527.45" stroke="#000" stroke-width="1.4" />
<text x="562.30" y="530.36" font-size="9.7" font-weight="bold" text-anchor="end">50</text>
<line x1="563.80" y1="550.36" x2="569.30" y2="550.36" stroke="#000" stroke-width="1.4" />
<text x="562.30" y="553.27" font-size="9.7" font-weight="bold" text-anchor="end">40</text>
<line x1="563.80" y1="573.27" x2="569.30" y2="573.27" stroke="#000" stroke-width="1.4" />
<text x="562.30" y="576.18" font-size="9.7" font-weight="bold" text-anchor="end">30</text>
<line x1="563.80" y1="596.18" x2="569.30" y2="596.18" stroke="#000" stroke-width="1.4" />
<text x="562.30" y="599.09" font-size="9.7" font-weight="bold" text-anchor="end">20</text>
<line x1="563.80" y1="619.09" x2="569.30" y2="619.09" stroke="#000" stroke-width="1.4" />
<text x="562.30" y="622.00" font-size="9.7" font-weight="bold" text-anchor="end">10</text>
<line x1="563.80" y1="642.00" x2="569.30" y2="642.00" stroke="#000" stroke-width="1.4" />
<text x="562.30" y="644.91" font-size="9.7" font-weight="bold" text-anchor="end">0</text>
<line x1="563.80" y1="642.00" x2="685.00" y2="642.00" stroke="#000" stroke-width="1.6" />
<line x1="587.00" y1="642.00" x2="587.00" y2="647.30" stroke="#000" stroke-width="1.4" />
<line x1="613.00" y1="642.00" x2="613.00" y2="647.30" stroke="#000" stroke-width="1.4" />
<line x1="640.00" y1="642.00" x2="640.00" y2="647.30" stroke="#000" stroke-width="1.4" />
<line x1="666.30" y1="642.00" x2="666.30" y2="647.30" stroke="#000" stroke-width="1.4" />
<text x="590.00" y="650.90" font-size="9.4" font-weight="bold" text-anchor="end" transform="rotate(-50.6 590.00 650.90)">Sterile Water Injected</text>
<text x="616.00" y="650.90" font-size="9.4" font-weight="bold" text-anchor="end" transform="rotate(-50.6 616.00 650.90)">EBV DNA Injected</text>
<text x="643.00" y="650.90" font-size="9.4" font-weight="bold" text-anchor="end" transform="rotate(-50.6 643.00 650.90)">PBS Injected</text>
<text x="669.30" y="650.90" font-size="9.4" font-weight="bold" text-anchor="end" transform="rotate(-50.6 669.30 650.90)">EBV <tspan font-size="4.75" font-weight="normal" fill="#222" dy="2.6">70 viral particles</tspan><tspan dy="-2.6"> Injected</tspan></text>
<text x="549.50" y="583.40" font-size="9.4" font-weight="bold" text-anchor="middle" textLength="111.00" lengthAdjust="spacingAndGlyphs" transform="rotate(-90 549.50 583.40)">Number of Bouts/24 hrs</text>
<text x="541.60" y="503.50" font-size="17.5" font-weight="bold">g</text>
<line x1="586.90" y1="538.90" x2="612.00" y2="538.90" stroke="#111" stroke-width="1.1" />
<polygon points="591.10,532.60 591.78,534.27 593.57,534.40 592.19,535.56 592.63,537.30 591.10,536.35 589.57,537.30 590.01,535.56 588.63,534.40 590.42,534.27" fill="#1a1a1a" stroke="#1a1a1a" stroke-width="0.25"/>
<polygon points="596.70,532.60 597.38,534.27 599.17,534.40 597.79,535.56 598.23,537.30 596.70,536.35 595.17,537.30 595.61,535.56 594.23,534.40 596.02,534.27" fill="#1a1a1a" stroke="#1a1a1a" stroke-width="0.25"/>
<polygon points="602.30,532.60 602.98,534.27 604.77,534.40 603.39,535.56 603.83,537.30 602.30,536.35 600.77,537.30 601.21,535.56 599.83,534.40 601.62,534.27" fill="#1a1a1a" stroke="#1a1a1a" stroke-width="0.25"/>
<polygon points="607.90,532.60 608.58,534.27 610.37,534.40 608.99,535.56 609.43,537.30 607.90,536.35 606.37,537.30 606.81,535.56 605.43,534.40 607.22,534.27" fill="#1a1a1a" stroke="#1a1a1a" stroke-width="0.25"/>
<line x1="610.20" y1="530.90" x2="664.00" y2="530.90" stroke="#111" stroke-width="1.1" />
<polygon points="627.60,524.40 628.28,526.07 630.07,526.20 628.69,527.36 629.13,529.10 627.60,528.15 626.07,529.10 626.51,527.36 625.13,526.20 626.92,526.07" fill="#1a1a1a" stroke="#1a1a1a" stroke-width="0.25"/>
<polygon points="633.20,524.40 633.88,526.07 635.67,526.20 634.29,527.36 634.73,529.10 633.20,528.15 631.67,529.10 632.11,527.36 630.73,526.20 632.52,526.07" fill="#1a1a1a" stroke="#1a1a1a" stroke-width="0.25"/>
<polygon points="638.80,524.40 639.48,526.07 641.27,526.20 639.89,527.36 640.33,529.10 638.80,528.15 637.27,529.10 637.71,527.36 636.33,526.20 638.12,526.07" fill="#1a1a1a" stroke="#1a1a1a" stroke-width="0.25"/>
<polygon points="644.40,524.40 645.08,526.07 646.87,526.20 645.49,527.36 645.93,529.10 644.40,528.15 642.87,529.10 643.31,527.36 641.93,526.20 643.72,526.07" fill="#1a1a1a" stroke="#1a1a1a" stroke-width="0.25"/>
<line x1="640.70" y1="553.80" x2="666.20" y2="553.80" stroke="#111" stroke-width="1.1" />
<polygon points="653.40,547.50 654.08,549.17 655.87,549.30 654.49,550.46 654.93,552.20 653.40,551.25 651.87,552.20 652.31,550.46 650.93,549.30 652.72,549.17" fill="#1a1a1a" stroke="#1a1a1a" stroke-width="0.25"/>
<line x1="581.00" y1="726.80" x2="673.50" y2="726.80" stroke="#111" stroke-width="1.3" />
<circle cx="615.20" cy="737.00" r="3.3" fill="none" stroke="#8a8a8a" stroke-width="0.85"/>
<line x1="616.75" y1="734.09" x2="619.07" y2="729.72" stroke="#8a8a8a" stroke-width="0.85"/>
<line x1="619.07" y1="729.72" x2="616.97" y2="731.03" stroke="#8a8a8a" stroke-width="0.85"/>
<line x1="619.07" y1="729.72" x2="619.16" y2="732.19" stroke="#8a8a8a" stroke-width="0.85"/>
<text x="623.30" y="738.80" font-size="12.5" font-weight="bold" font-style="italic" textLength="11.20" lengthAdjust="spacingAndGlyphs">W</text>
<text x="634.89" y="734.17" font-size="7.0" font-weight="bold" font-style="italic" textLength="13.25" lengthAdjust="spacingAndGlyphs">1118</text>
<rect x="393.40" y="819.00" width="18.20" height="53.30" fill="#fff" stroke="#2a2a2a" stroke-width="0.85"/>
<rect x="421.40" y="802.40" width="18.20" height="69.90" fill="#fff" stroke="#2a2a2a" stroke-width="0.85"/>
<rect x="449.40" y="816.00" width="18.20" height="56.30" fill="#fff" stroke="#2a2a2a" stroke-width="0.85"/>
<rect x="477.50" y="812.40" width="18.20" height="59.90" fill="#fff" stroke="#2a2a2a" stroke-width="0.85"/>
<line x1="402.50" y1="819.00" x2="402.50" y2="808.43" stroke="#555" stroke-width="0.8" />
<line x1="397.77" y1="808.43" x2="407.23" y2="808.43" stroke="#555" stroke-width="0.8" />
<line x1="402.50" y1="819.00" x2="402.50" y2="829.57" stroke="#555" stroke-width="0.8" />
<line x1="397.77" y1="829.57" x2="407.23" y2="829.57" stroke="#555" stroke-width="0.8" />
<line x1="430.50" y1="802.40" x2="430.50" y2="785.53" stroke="#555" stroke-width="0.8" />
<line x1="425.77" y1="785.53" x2="435.23" y2="785.53" stroke="#555" stroke-width="0.8" />
<line x1="430.50" y1="802.40" x2="430.50" y2="819.27" stroke="#555" stroke-width="0.8" />
<line x1="425.77" y1="819.27" x2="435.23" y2="819.27" stroke="#555" stroke-width="0.8" />
<line x1="458.50" y1="816.00" x2="458.50" y2="804.46" stroke="#555" stroke-width="0.8" />
<line x1="453.77" y1="804.46" x2="463.23" y2="804.46" stroke="#555" stroke-width="0.8" />
<line x1="458.50" y1="816.00" x2="458.50" y2="827.54" stroke="#555" stroke-width="0.8" />
<line x1="453.77" y1="827.54" x2="463.23" y2="827.54" stroke="#555" stroke-width="0.8" />
<line x1="486.60" y1="812.40" x2="486.60" y2="795.59" stroke="#555" stroke-width="0.8" />
<line x1="481.87" y1="795.59" x2="491.33" y2="795.59" stroke="#555" stroke-width="0.8" />
<line x1="486.60" y1="812.40" x2="486.60" y2="829.21" stroke="#555" stroke-width="0.8" />
<line x1="481.87" y1="829.21" x2="491.33" y2="829.21" stroke="#555" stroke-width="0.8" />
<circle cx="402.50" cy="787.54" r="2.65"/>
<circle cx="402.50" cy="798.44" r="2.65"/>
<circle cx="398.90" cy="800.26" r="2.65"/>
<circle cx="402.50" cy="808.73" r="2.65"/>
<circle cx="405.20" cy="811.76" r="2.65"/>
<circle cx="401.60" cy="814.18" r="2.65"/>
<circle cx="406.10" cy="815.39" r="2.65"/>
<circle cx="398.00" cy="816.60" r="2.65"/>
<circle cx="402.50" cy="817.81" r="2.65"/>
<circle cx="408.80" cy="818.42" r="2.65"/>
<circle cx="396.20" cy="819.02" r="2.65"/>
<circle cx="399.80" cy="819.63" r="2.65"/>
<circle cx="405.20" cy="820.24" r="2.65"/>
<circle cx="402.50" cy="820.84" r="2.65"/>
<circle cx="408.80" cy="821.45" r="2.65"/>
<circle cx="397.10" cy="822.05" r="2.65"/>
<circle cx="399.80" cy="822.66" r="2.65"/>
<circle cx="406.10" cy="823.26" r="2.65"/>
<circle cx="402.50" cy="823.87" r="2.65"/>
<circle cx="408.80" cy="824.47" r="2.65"/>
<circle cx="396.20" cy="825.08" r="2.65"/>
<circle cx="399.80" cy="826.29" r="2.65"/>
<circle cx="403.40" cy="827.50" r="2.65"/>
<circle cx="407.00" cy="828.71" r="2.65"/>
<circle cx="398.90" cy="829.92" r="2.65"/>
<circle cx="402.50" cy="831.13" r="2.65"/>
<circle cx="406.10" cy="832.95" r="2.65"/>
<circle cx="399.80" cy="834.16" r="2.65"/>
<rect x="428.03" y="782.05" width="4.94" height="4.94"/>
<rect x="424.43" y="782.05" width="4.94" height="4.94"/>
<rect x="431.63" y="782.05" width="4.94" height="4.94"/>
<rect x="434.33" y="782.05" width="4.94" height="4.94"/>
<rect x="421.73" y="782.05" width="4.94" height="4.94"/>
<rect x="426.23" y="782.05" width="4.94" height="4.94"/>
<rect x="429.83" y="782.05" width="4.94" height="4.94"/>
<rect x="422.63" y="782.05" width="4.94" height="4.94"/>
<rect x="433.43" y="783.86" width="4.94" height="4.94"/>
<rect x="428.03" y="791.13" width="4.94" height="4.94"/>
<rect x="424.43" y="792.34" width="4.94" height="4.94"/>
<rect x="429.83" y="794.15" width="4.94" height="4.94"/>
<rect x="426.23" y="795.97" width="4.94" height="4.94"/>
<rect x="431.63" y="797.18" width="4.94" height="4.94"/>
<rect x="423.53" y="798.39" width="4.94" height="4.94"/>
<rect x="428.03" y="800.21" width="4.94" height="4.94"/>
<rect x="424.43" y="802.03" width="4.94" height="4.94"/>
<rect x="429.83" y="803.24" width="4.94" height="4.94"/>
<rect x="428.03" y="806.26" width="4.94" height="4.94"/>
<rect x="429.83" y="809.29" width="4.94" height="4.94"/>
<rect x="428.03" y="812.32" width="4.94" height="4.94"/>
<rect x="431.63" y="814.13" width="4.94" height="4.94"/>
<rect x="428.03" y="816.55" width="4.94" height="4.94"/>
<rect x="431.63" y="818.37" width="4.94" height="4.94"/>
<rect x="428.03" y="821.40" width="4.94" height="4.94"/>
<rect x="426.23" y="824.42" width="4.94" height="4.94"/>
<rect x="428.03" y="827.45" width="4.94" height="4.94"/>
<rect x="429.83" y="830.48" width="4.94" height="4.94"/>
<rect x="428.03" y="833.51" width="4.94" height="4.94"/>
<polygon points="455.28,801.65 461.72,801.65 458.50,796.59"/>
<polygon points="459.78,802.86 466.22,802.86 463.00,797.80"/>
<polygon points="451.68,804.68 458.12,804.68 454.90,799.62"/>
<polygon points="456.18,805.89 462.62,805.89 459.40,800.83"/>
<polygon points="460.68,807.70 467.12,807.70 463.90,802.64"/>
<polygon points="449.88,808.92 456.32,808.92 453.10,803.85"/>
<polygon points="455.28,810.73 461.72,810.73 458.50,805.67"/>
<polygon points="459.78,812.55 466.22,812.55 463.00,807.49"/>
<polygon points="451.68,813.76 458.12,813.76 454.90,808.70"/>
<polygon points="456.18,814.97 462.62,814.97 459.40,809.91"/>
<polygon points="461.58,816.18 468.02,816.18 464.80,811.12"/>
<polygon points="448.98,817.39 455.42,817.39 452.20,812.33"/>
<polygon points="453.48,818.60 459.92,818.60 456.70,813.54"/>
<polygon points="457.98,819.81 464.42,819.81 461.20,814.75"/>
<polygon points="461.58,821.02 468.02,821.02 464.80,815.96"/>
<polygon points="451.68,822.84 458.12,822.84 454.90,817.78"/>
<polygon points="455.28,825.87 461.72,825.87 458.50,820.81"/>
<polygon points="459.78,828.29 466.22,828.29 463.00,823.23"/>
<polygon points="455.28,839.19 461.72,839.19 458.50,834.12"/>
<polygon points="455.28,845.85 461.72,845.85 458.50,840.78"/>
<polygon points="483.38,782.52 489.82,782.52 486.60,787.58"/>
<polygon points="487.88,782.52 494.32,782.52 491.10,787.58"/>
<polygon points="478.88,782.52 485.32,782.52 482.10,787.58"/>
<polygon points="481.58,782.52 488.02,782.52 484.80,787.58"/>
<polygon points="485.18,782.52 491.62,782.52 488.40,787.58"/>
<polygon points="489.68,782.52 496.12,782.52 492.90,787.58"/>
<polygon points="483.38,793.42 489.82,793.42 486.60,798.48"/>
<polygon points="483.38,801.89 489.82,801.89 486.60,806.95"/>
<polygon points="479.78,803.71 486.22,803.71 483.00,808.77"/>
<polygon points="483.38,806.73 489.82,806.73 486.60,811.80"/>
<polygon points="479.78,808.55 486.22,808.55 483.00,813.61"/>
<polygon points="486.08,809.76 492.52,809.76 489.30,814.82"/>
<polygon points="489.68,810.97 496.12,810.97 492.90,816.03"/>
<polygon points="482.48,812.18 488.92,812.18 485.70,817.24"/>
<polygon points="478.88,813.39 485.32,813.39 482.10,818.46"/>
<polygon points="486.08,814.60 492.52,814.60 489.30,819.67"/>
<polygon points="489.68,815.82 496.12,815.82 492.90,820.88"/>
<polygon points="482.48,817.03 488.92,817.03 485.70,822.09"/>
<polygon points="478.88,818.24 485.32,818.24 482.10,823.30"/>
<polygon points="486.08,819.45 492.52,819.45 489.30,824.51"/>
<polygon points="482.48,821.87 488.92,821.87 485.70,826.93"/>
<polygon points="486.98,823.08 493.42,823.08 490.20,828.14"/>
<polygon points="483.38,827.92 489.82,827.92 486.60,832.98"/>
<polygon points="486.08,830.95 492.52,830.95 489.30,836.01"/>
<polygon points="483.38,836.40 489.82,836.40 486.60,841.46"/>
<line x1="384.00" y1="750.60" x2="384.00" y2="872.90" stroke="#000" stroke-width="1.6" />
<line x1="378.50" y1="751.22" x2="384.00" y2="751.22" stroke="#000" stroke-width="1.4" />
<text x="377.00" y="754.13" font-size="9.7" font-weight="bold" text-anchor="end">2000</text>
<line x1="378.50" y1="781.49" x2="384.00" y2="781.49" stroke="#000" stroke-width="1.4" />
<text x="377.00" y="784.40" font-size="9.7" font-weight="bold" text-anchor="end">1500</text>
<line x1="378.50" y1="811.76" x2="384.00" y2="811.76" stroke="#000" stroke-width="1.4" />
<text x="377.00" y="814.67" font-size="9.7" font-weight="bold" text-anchor="end">1000</text>
<line x1="378.50" y1="842.03" x2="384.00" y2="842.03" stroke="#000" stroke-width="1.4" />
<text x="377.00" y="844.94" font-size="9.7" font-weight="bold" text-anchor="end">500</text>
<line x1="378.50" y1="872.30" x2="384.00" y2="872.30" stroke="#000" stroke-width="1.4" />
<text x="377.00" y="875.21" font-size="9.7" font-weight="bold" text-anchor="end">0</text>
<line x1="378.50" y1="872.30" x2="505.60" y2="872.30" stroke="#000" stroke-width="1.6" />
<line x1="402.50" y1="872.30" x2="402.50" y2="877.60" stroke="#000" stroke-width="1.4" />
<line x1="430.50" y1="872.30" x2="430.50" y2="877.60" stroke="#000" stroke-width="1.4" />
<line x1="458.50" y1="872.30" x2="458.50" y2="877.60" stroke="#000" stroke-width="1.4" />
<line x1="486.60" y1="872.30" x2="486.60" y2="877.60" stroke="#000" stroke-width="1.4" />
<text x="405.50" y="881.90" font-size="9.4" font-weight="bold" text-anchor="end" transform="rotate(-50.6 405.50 881.90)">Sterile Water Injected</text>
<text x="433.50" y="881.90" font-size="9.4" font-weight="bold" text-anchor="end" transform="rotate(-50.6 433.50 881.90)">EBV DNA Injected</text>
<text x="461.50" y="881.90" font-size="9.4" font-weight="bold" text-anchor="end" transform="rotate(-50.6 461.50 881.90)">PBS Injected</text>
<text x="489.60" y="881.90" font-size="9.4" font-weight="bold" text-anchor="end" transform="rotate(-50.6 489.60 881.90)">EBV <tspan font-size="4.75" font-weight="normal" fill="#222" dy="2.6">70 viral particles</tspan><tspan dy="-2.6"> Injected</tspan></text>
<text x="353.40" y="808.40" font-size="9.4" font-weight="bold" text-anchor="middle" textLength="108.90" lengthAdjust="spacingAndGlyphs" transform="rotate(-90 353.40 808.40)">Average sleep/day (min)</text>
<text x="332.00" y="748.60" font-size="17.5" font-weight="bold">i</text>
<line x1="405.00" y1="778.00" x2="430.00" y2="778.00" stroke="#111" stroke-width="1.1" />
<polygon points="409.10,771.90 409.78,773.57 411.57,773.70 410.19,774.86 410.63,776.60 409.10,775.65 407.57,776.60 408.01,774.86 406.63,773.70 408.42,773.57" fill="#1a1a1a" stroke="#1a1a1a" stroke-width="0.25"/>
<polygon points="414.70,771.90 415.38,773.57 417.17,773.70 415.79,774.86 416.23,776.60 414.70,775.65 413.17,776.60 413.61,774.86 412.23,773.70 414.02,773.57" fill="#1a1a1a" stroke="#1a1a1a" stroke-width="0.25"/>
<polygon points="420.30,771.90 420.98,773.57 422.77,773.70 421.39,774.86 421.83,776.60 420.30,775.65 418.77,776.60 419.21,774.86 417.83,773.70 419.62,773.57" fill="#1a1a1a" stroke="#1a1a1a" stroke-width="0.25"/>
<polygon points="425.90,771.90 426.58,773.57 428.37,773.70 426.99,774.86 427.43,776.60 425.90,775.65 424.37,776.60 424.81,774.86 423.43,773.70 425.22,773.57" fill="#1a1a1a" stroke="#1a1a1a" stroke-width="0.25"/>
<line x1="430.00" y1="766.00" x2="487.00" y2="766.00" stroke="#111" stroke-width="1.1" />
<polygon points="457.80,760.30 458.48,761.97 460.27,762.10 458.89,763.26 459.33,765.00 457.80,764.05 456.27,765.00 456.71,763.26 455.33,762.10 457.12,761.97" fill="#1a1a1a" stroke="#1a1a1a" stroke-width="0.25"/>
<line x1="393.60" y1="957.20" x2="485.60" y2="957.20" stroke="#111" stroke-width="1.3" />
<circle cx="421.60" cy="967.50" r="3.3" fill="none" stroke="#8a8a8a" stroke-width="0.85"/>
<line x1="423.15" y1="964.59" x2="425.47" y2="960.22" stroke="#8a8a8a" stroke-width="0.85"/>
<line x1="425.47" y1="960.22" x2="423.37" y2="961.53" stroke="#8a8a8a" stroke-width="0.85"/>
<line x1="425.47" y1="960.22" x2="425.56" y2="962.69" stroke="#8a8a8a" stroke-width="0.85"/>
<text x="430.70" y="969.30" font-size="12.5" font-weight="bold" font-style="italic" textLength="11.20" lengthAdjust="spacingAndGlyphs">W</text>
<text x="442.29" y="964.67" font-size="7.0" font-weight="bold" font-style="italic" textLength="13.25" lengthAdjust="spacingAndGlyphs">1118</text>
<rect x="574.50" y="807.40" width="18.00" height="63.70" fill="#fff" stroke="#2a2a2a" stroke-width="0.85"/>
<rect x="601.30" y="832.40" width="18.00" height="38.70" fill="#fff" stroke="#2a2a2a" stroke-width="0.85"/>
<rect x="628.20" y="818.40" width="18.00" height="52.70" fill="#fff" stroke="#2a2a2a" stroke-width="0.85"/>
<rect x="655.30" y="817.00" width="18.00" height="54.10" fill="#fff" stroke="#2a2a2a" stroke-width="0.85"/>
<line x1="583.50" y1="807.40" x2="583.50" y2="791.60" stroke="#555" stroke-width="0.8" />
<line x1="578.82" y1="791.60" x2="588.18" y2="791.60" stroke="#555" stroke-width="0.8" />
<line x1="583.50" y1="807.40" x2="583.50" y2="823.20" stroke="#555" stroke-width="0.8" />
<line x1="578.82" y1="823.20" x2="588.18" y2="823.20" stroke="#555" stroke-width="0.8" />
<line x1="610.30" y1="832.40" x2="610.30" y2="810.40" stroke="#555" stroke-width="0.8" />
<line x1="605.62" y1="810.40" x2="614.98" y2="810.40" stroke="#555" stroke-width="0.8" />
<line x1="610.30" y1="832.40" x2="610.30" y2="862.40" stroke="#555" stroke-width="0.8" />
<line x1="605.62" y1="862.40" x2="614.98" y2="862.40" stroke="#555" stroke-width="0.8" />
<line x1="637.20" y1="818.40" x2="637.20" y2="806.00" stroke="#555" stroke-width="0.8" />
<line x1="632.52" y1="806.00" x2="641.88" y2="806.00" stroke="#555" stroke-width="0.8" />
<line x1="637.20" y1="818.40" x2="637.20" y2="829.36" stroke="#555" stroke-width="0.8" />
<line x1="632.52" y1="829.36" x2="641.88" y2="829.36" stroke="#555" stroke-width="0.8" />
<line x1="664.30" y1="817.00" x2="664.30" y2="786.50" stroke="#555" stroke-width="0.8" />
<line x1="659.62" y1="786.50" x2="668.98" y2="786.50" stroke="#555" stroke-width="0.8" />
<line x1="664.30" y1="817.00" x2="664.30" y2="845.80" stroke="#555" stroke-width="0.8" />
<line x1="659.62" y1="845.80" x2="668.98" y2="845.80" stroke="#555" stroke-width="0.8" />
<circle cx="583.50" cy="787.62" r="2.65"/>
<circle cx="579.00" cy="789.56" r="2.65"/>
<circle cx="586.20" cy="791.50" r="2.65"/>
<circle cx="581.70" cy="793.44" r="2.65"/>
<circle cx="589.80" cy="794.41" r="2.65"/>
<circle cx="577.20" cy="795.38" r="2.65"/>
<circle cx="584.40" cy="797.32" r="2.65"/>
<circle cx="579.90" cy="799.26" r="2.65"/>
<circle cx="587.10" cy="801.21" r="2.65"/>
<circle cx="582.60" cy="802.18" r="2.65"/>
<circle cx="577.20" cy="803.15" r="2.65"/>
<circle cx="589.80" cy="805.09" r="2.65"/>
<circle cx="585.30" cy="806.06" r="2.65"/>
<circle cx="579.90" cy="807.03" r="2.65"/>
<circle cx="588.90" cy="808.97" r="2.65"/>
<circle cx="583.50" cy="810.91" r="2.65"/>
<circle cx="579.00" cy="812.86" r="2.65"/>
<circle cx="586.20" cy="814.80" r="2.65"/>
<circle cx="581.70" cy="816.74" r="2.65"/>
<circle cx="588.90" cy="818.68" r="2.65"/>
<circle cx="584.40" cy="820.62" r="2.65"/>
<circle cx="579.90" cy="822.56" r="2.65"/>
<circle cx="587.10" cy="824.50" r="2.65"/>
<circle cx="583.50" cy="834.99" r="2.65"/>
<circle cx="583.50" cy="857.70" r="2.65"/>
<rect x="607.83" y="780.68" width="4.94" height="4.94"/>
<rect x="612.33" y="783.20" width="4.94" height="4.94"/>
<rect x="607.83" y="790.58" width="4.94" height="4.94"/>
<rect x="607.83" y="798.74" width="4.94" height="4.94"/>
<rect x="612.33" y="800.68" width="4.94" height="4.94"/>
<rect x="603.33" y="801.65" width="4.94" height="4.94"/>
<rect x="608.73" y="802.62" width="4.94" height="4.94"/>
<rect x="614.13" y="803.59" width="4.94" height="4.94"/>
<rect x="607.83" y="818.15" width="4.94" height="4.94"/>
<rect x="603.33" y="820.09" width="4.94" height="4.94"/>
<rect x="610.53" y="822.03" width="4.94" height="4.94"/>
<rect x="607.83" y="825.92" width="4.94" height="4.94"/>
<rect x="612.33" y="827.86" width="4.94" height="4.94"/>
<rect x="605.13" y="829.80" width="4.94" height="4.94"/>
<rect x="609.63" y="831.74" width="4.94" height="4.94"/>
<rect x="602.43" y="833.68" width="4.94" height="4.94"/>
<rect x="607.83" y="837.57" width="4.94" height="4.94"/>
<rect x="607.83" y="843.39" width="4.94" height="4.94"/>
<rect x="607.83" y="868.63" width="4.94" height="4.94"/>
<rect x="613.23" y="868.63" width="4.94" height="4.94"/>
<rect x="602.43" y="868.63" width="4.94" height="4.94"/>
<rect x="605.13" y="868.63" width="4.94" height="4.94"/>
<rect x="610.53" y="868.63" width="4.94" height="4.94"/>
<rect x="609.63" y="868.63" width="4.94" height="4.94"/>
<rect x="606.03" y="868.63" width="4.94" height="4.94"/>
<rect x="606.93" y="868.63" width="4.94" height="4.94"/>
<rect x="608.73" y="868.63" width="4.94" height="4.94"/>
<rect x="611.43" y="868.63" width="4.94" height="4.94"/>
<polygon points="633.98,797.38 640.42,797.38 637.20,792.32"/>
<polygon points="638.48,800.29 644.92,800.29 641.70,795.23"/>
<polygon points="633.98,802.23 640.42,802.23 637.20,797.17"/>
<polygon points="633.98,809.03 640.42,809.03 637.20,803.97"/>
<polygon points="636.68,812.91 643.12,812.91 639.90,807.85"/>
<polygon points="633.98,816.80 640.42,816.80 637.20,811.73"/>
<polygon points="629.48,818.74 635.92,818.74 632.70,813.68"/>
<polygon points="638.48,819.71 644.92,819.71 641.70,814.65"/>
<polygon points="633.08,820.68 639.52,820.68 636.30,815.62"/>
<polygon points="627.68,821.65 634.12,821.65 630.90,816.59"/>
<polygon points="636.68,822.62 643.12,822.62 639.90,817.56"/>
<polygon points="640.28,823.59 646.72,823.59 643.50,818.53"/>
<polygon points="631.28,824.56 637.72,824.56 634.50,819.50"/>
<polygon points="627.68,825.53 634.12,825.53 630.90,820.47"/>
<polygon points="634.88,826.50 641.32,826.50 638.10,821.44"/>
<polygon points="639.38,828.44 645.82,828.44 642.60,823.38"/>
<polygon points="632.18,830.39 638.62,830.39 635.40,825.32"/>
<polygon points="636.68,832.33 643.12,832.33 639.90,827.27"/>
<polygon points="629.48,834.27 635.92,834.27 632.70,829.21"/>
<polygon points="640.28,835.24 646.72,835.24 643.50,830.18"/>
<polygon points="661.08,760.38 667.52,760.38 664.30,765.44"/>
<polygon points="661.08,777.85 667.52,777.85 664.30,782.91"/>
<polygon points="661.08,783.68 667.52,783.68 664.30,788.74"/>
<polygon points="665.58,785.62 672.02,785.62 668.80,790.68"/>
<polygon points="661.08,789.50 667.52,789.50 664.30,794.56"/>
<polygon points="665.58,791.44 672.02,791.44 668.80,796.50"/>
<polygon points="658.38,793.38 664.82,793.38 661.60,798.44"/>
<polygon points="662.88,795.32 669.32,795.32 666.10,800.39"/>
<polygon points="655.68,797.27 662.12,797.27 658.90,802.33"/>
<polygon points="667.38,798.24 673.82,798.24 670.60,803.30"/>
<polygon points="660.18,799.21 666.62,799.21 663.40,804.27"/>
<polygon points="663.78,800.18 670.22,800.18 667.00,805.24"/>
<polygon points="656.58,801.15 663.02,801.15 659.80,806.21"/>
<polygon points="667.38,802.12 673.82,802.12 670.60,807.18"/>
<polygon points="661.08,803.09 667.52,803.09 664.30,808.15"/>
<polygon points="654.78,804.06 661.22,804.06 658.00,809.12"/>
<polygon points="664.68,805.03 671.12,805.03 667.90,810.09"/>
<polygon points="658.38,806.97 664.82,806.97 661.60,812.03"/>
<polygon points="667.38,807.94 673.82,807.94 670.60,813.01"/>
<polygon points="662.88,808.91 669.32,808.91 666.10,813.98"/>
<polygon points="655.68,810.86 662.12,810.86 658.90,815.92"/>
<polygon points="660.18,812.80 666.62,812.80 663.40,817.86"/>
<polygon points="664.68,814.74 671.12,814.74 667.90,819.80"/>
<polygon points="657.48,816.68 663.92,816.68 660.70,821.74"/>
<polygon points="661.98,818.62 668.42,818.62 665.20,823.68"/>
<polygon points="666.48,820.56 672.92,820.56 669.70,825.63"/>
<polygon points="659.28,822.51 665.72,822.51 662.50,827.57"/>
<polygon points="661.98,826.39 668.42,826.39 665.20,831.45"/>
<polygon points="659.28,830.27 665.72,830.27 662.50,835.33"/>
<polygon points="661.08,865.22 667.52,865.22 664.30,870.28"/>
<polygon points="663.78,869.10 670.22,869.10 667.00,874.16"/>
<polygon points="658.38,869.10 664.82,869.10 661.60,874.16"/>
<polygon points="654.78,869.10 661.22,869.10 658.00,874.16"/>
<line x1="565.45" y1="754.00" x2="565.45" y2="871.70" stroke="#000" stroke-width="1.6" />
<line x1="559.95" y1="754.61" x2="565.45" y2="754.61" stroke="#000" stroke-width="1.4" />
<text x="558.45" y="757.52" font-size="9.7" font-weight="bold" text-anchor="end">60</text>
<line x1="559.95" y1="793.44" x2="565.45" y2="793.44" stroke="#000" stroke-width="1.4" />
<text x="558.45" y="796.35" font-size="9.7" font-weight="bold" text-anchor="end">40</text>
<line x1="559.95" y1="832.27" x2="565.45" y2="832.27" stroke="#000" stroke-width="1.4" />
<text x="558.45" y="835.18" font-size="9.7" font-weight="bold" text-anchor="end">20</text>
<line x1="559.95" y1="871.10" x2="565.45" y2="871.10" stroke="#000" stroke-width="1.4" />
<text x="558.45" y="874.01" font-size="9.7" font-weight="bold" text-anchor="end">0</text>
<line x1="559.95" y1="871.10" x2="683.40" y2="871.10" stroke="#000" stroke-width="1.6" />
<line x1="583.50" y1="871.10" x2="583.50" y2="876.40" stroke="#000" stroke-width="1.4" />
<line x1="610.30" y1="871.10" x2="610.30" y2="876.40" stroke="#000" stroke-width="1.4" />
<line x1="637.20" y1="871.10" x2="637.20" y2="876.40" stroke="#000" stroke-width="1.4" />
<line x1="664.30" y1="871.10" x2="664.30" y2="876.40" stroke="#000" stroke-width="1.4" />
<text x="586.50" y="880.20" font-size="9.4" font-weight="bold" text-anchor="end" transform="rotate(-50.6 586.50 880.20)">Sterile Water Injected</text>
<text x="613.30" y="880.20" font-size="9.4" font-weight="bold" text-anchor="end" transform="rotate(-50.6 613.30 880.20)">EBV DNA Injected</text>
<text x="640.20" y="880.20" font-size="9.4" font-weight="bold" text-anchor="end" transform="rotate(-50.6 640.20 880.20)">PBS Injected</text>
<text x="667.30" y="880.20" font-size="9.4" font-weight="bold" text-anchor="end" transform="rotate(-50.6 667.30 880.20)">EBV <tspan font-size="4.75" font-weight="normal" fill="#222" dy="2.6">70 viral particles</tspan><tspan dy="-2.6"> Injected</tspan></text>
<text x="0.00" y="0.00" font-size="9.4" font-weight="bold" text-anchor="middle" transform="rotate(-90 0.00 0.00)"></text>
<text x="533.60" y="749.00" font-size="17.5" font-weight="bold">j</text>
<line x1="583.00" y1="776.40" x2="608.60" y2="776.40" stroke="#111" stroke-width="1.1" />
<polygon points="589.70,769.70 590.38,771.37 592.17,771.50 590.79,772.66 591.23,774.40 589.70,773.45 588.17,774.40 588.61,772.66 587.23,771.50 589.02,771.37" fill="#1a1a1a" stroke="#1a1a1a" stroke-width="0.25"/>
<polygon points="595.30,769.70 595.98,771.37 597.77,771.50 596.39,772.66 596.83,774.40 595.30,773.45 593.77,774.40 594.21,772.66 592.83,771.50 594.62,771.37" fill="#1a1a1a" stroke="#1a1a1a" stroke-width="0.25"/>
<polygon points="600.90,769.70 601.58,771.37 603.37,771.50 601.99,772.66 602.43,774.40 600.90,773.45 599.37,774.40 599.81,772.66 598.43,771.50 600.22,771.37" fill="#1a1a1a" stroke="#1a1a1a" stroke-width="0.25"/>
<line x1="583.90" y1="957.90" x2="676.00" y2="957.90" stroke="#111" stroke-width="1.3" />
<circle cx="614.00" cy="966.60" r="3.3" fill="none" stroke="#8a8a8a" stroke-width="0.85"/>
<line x1="615.55" y1="963.69" x2="617.87" y2="959.32" stroke="#8a8a8a" stroke-width="0.85"/>
<line x1="617.87" y1="959.32" x2="615.77" y2="960.63" stroke="#8a8a8a" stroke-width="0.85"/>
<line x1="617.87" y1="959.32" x2="617.96" y2="961.79" stroke="#8a8a8a" stroke-width="0.85"/>
<text x="622.70" y="968.40" font-size="12.5" font-weight="bold" font-style="italic" textLength="11.20" lengthAdjust="spacingAndGlyphs">W</text>
<text x="634.29" y="963.77" font-size="7.0" font-weight="bold" font-style="italic" textLength="13.25" lengthAdjust="spacingAndGlyphs">1118</text></svg></body></html>
